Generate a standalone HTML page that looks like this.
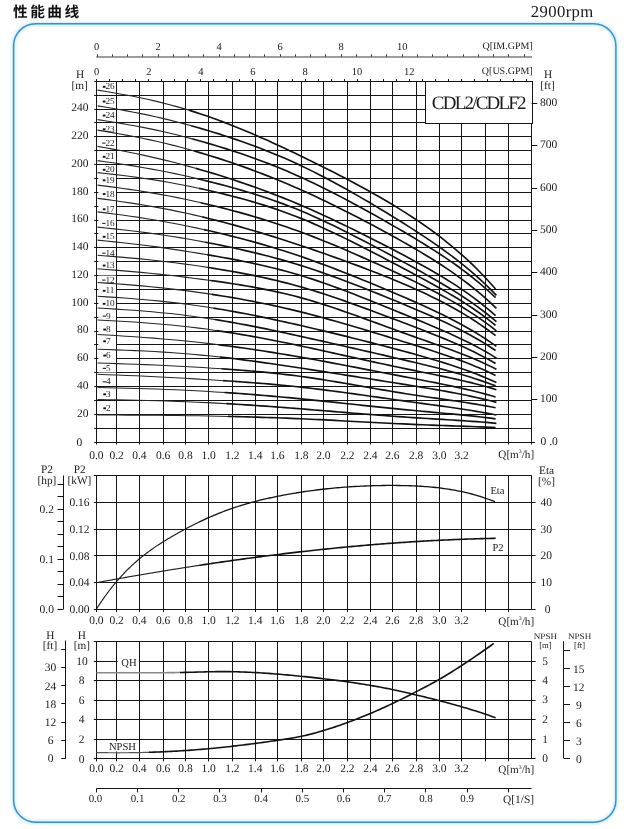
<!DOCTYPE html>
<html><head><meta charset="utf-8"><title>Performance curve</title>
<style>html,body{margin:0;padding:0;background:#fff;}body{width:624px;height:829px;overflow:hidden;font-family:"Liberation Serif",serif;}svg{display:block;will-change:transform;transform:translateZ(0)}text{text-rendering:geometricPrecision}</style>
</head><body>
<svg width="624" height="829" viewBox="0 0 624 829" font-family="'Liberation Serif', serif">
<rect width="624" height="829" fill="#fff"/>
<rect x="13.6" y="23.7" width="602.3" height="798.5" rx="22" ry="22" fill="#fff" stroke="#eaf8fd" stroke-width="7" opacity="0.9"/>
<rect x="13.6" y="23.7" width="602.3" height="798.5" rx="22" ry="22" fill="none" stroke="#cdeaf7" stroke-width="3.0" opacity="0.85"/>
<rect x="13.6" y="23.7" width="602.3" height="798.5" rx="22" ry="22" fill="none" stroke="#3991c6" stroke-width="1.45"/>
<text x="12.90" y="16.5" font-size="14.7" font-weight="bold" font-family="'Liberation Sans', 'Noto Sans CJK SC', sans-serif" fill="#111" letter-spacing="2.55">性能曲线</text>
<text x="530.70" y="16.80" font-size="16.7" text-anchor="start" fill="#1a1a1a" letter-spacing="0.4">2900rpm</text>
<line x1="96.50" y1="81.25" x2="96.50" y2="442.00" stroke="#141414" stroke-width="1.0" />
<line x1="116.50" y1="81.25" x2="116.50" y2="442.00" stroke="#141414" stroke-width="1.0" />
<line x1="139.50" y1="81.25" x2="139.50" y2="442.00" stroke="#141414" stroke-width="1.0" />
<line x1="163.50" y1="81.25" x2="163.50" y2="442.00" stroke="#141414" stroke-width="1.0" />
<line x1="185.50" y1="81.25" x2="185.50" y2="442.00" stroke="#141414" stroke-width="1.0" />
<line x1="208.50" y1="81.25" x2="208.50" y2="442.00" stroke="#141414" stroke-width="1.0" />
<line x1="232.50" y1="81.25" x2="232.50" y2="442.00" stroke="#141414" stroke-width="1.0" />
<line x1="255.50" y1="81.25" x2="255.50" y2="442.00" stroke="#141414" stroke-width="1.0" />
<line x1="277.50" y1="81.25" x2="277.50" y2="442.00" stroke="#141414" stroke-width="1.0" />
<line x1="301.50" y1="81.25" x2="301.50" y2="442.00" stroke="#141414" stroke-width="1.0" />
<line x1="323.50" y1="81.25" x2="323.50" y2="442.00" stroke="#141414" stroke-width="1.0" />
<line x1="347.50" y1="81.25" x2="347.50" y2="442.00" stroke="#141414" stroke-width="1.0" />
<line x1="370.50" y1="81.25" x2="370.50" y2="442.00" stroke="#141414" stroke-width="1.0" />
<line x1="392.50" y1="81.25" x2="392.50" y2="442.00" stroke="#141414" stroke-width="1.0" />
<line x1="416.50" y1="81.25" x2="416.50" y2="442.00" stroke="#141414" stroke-width="1.0" />
<line x1="439.50" y1="81.25" x2="439.50" y2="442.00" stroke="#141414" stroke-width="1.0" />
<line x1="461.50" y1="81.25" x2="461.50" y2="442.00" stroke="#141414" stroke-width="1.0" />
<line x1="485.50" y1="81.25" x2="485.50" y2="442.00" stroke="#141414" stroke-width="1.0" />
<line x1="508.50" y1="81.25" x2="508.50" y2="442.00" stroke="#141414" stroke-width="1.0" />
<line x1="531.50" y1="81.25" x2="531.50" y2="442.00" stroke="#141414" stroke-width="1.0" />
<line x1="96.50" y1="442.50" x2="531.60" y2="442.50" stroke="#141414" stroke-width="1.0" />
<line x1="96.50" y1="428.50" x2="531.60" y2="428.50" stroke="#141414" stroke-width="1.0" />
<line x1="96.50" y1="414.50" x2="531.60" y2="414.50" stroke="#141414" stroke-width="1.0" />
<line x1="96.50" y1="400.50" x2="531.60" y2="400.50" stroke="#141414" stroke-width="1.0" />
<line x1="96.50" y1="386.50" x2="531.60" y2="386.50" stroke="#141414" stroke-width="1.0" />
<line x1="96.50" y1="372.50" x2="531.60" y2="372.50" stroke="#141414" stroke-width="1.0" />
<line x1="96.50" y1="358.50" x2="531.60" y2="358.50" stroke="#141414" stroke-width="1.0" />
<line x1="96.50" y1="344.50" x2="531.60" y2="344.50" stroke="#141414" stroke-width="1.0" />
<line x1="96.50" y1="331.50" x2="531.60" y2="331.50" stroke="#141414" stroke-width="1.0" />
<line x1="96.50" y1="317.50" x2="531.60" y2="317.50" stroke="#141414" stroke-width="1.0" />
<line x1="96.50" y1="303.50" x2="531.60" y2="303.50" stroke="#141414" stroke-width="1.0" />
<line x1="96.50" y1="289.50" x2="531.60" y2="289.50" stroke="#141414" stroke-width="1.0" />
<line x1="96.50" y1="275.50" x2="531.60" y2="275.50" stroke="#141414" stroke-width="1.0" />
<line x1="96.50" y1="261.50" x2="531.60" y2="261.50" stroke="#141414" stroke-width="1.0" />
<line x1="96.50" y1="247.50" x2="531.60" y2="247.50" stroke="#141414" stroke-width="1.0" />
<line x1="96.50" y1="233.50" x2="531.60" y2="233.50" stroke="#141414" stroke-width="1.0" />
<line x1="96.50" y1="220.50" x2="531.60" y2="220.50" stroke="#141414" stroke-width="1.0" />
<line x1="96.50" y1="206.50" x2="531.60" y2="206.50" stroke="#141414" stroke-width="1.0" />
<line x1="96.50" y1="192.50" x2="531.60" y2="192.50" stroke="#141414" stroke-width="1.0" />
<line x1="96.50" y1="178.50" x2="531.60" y2="178.50" stroke="#141414" stroke-width="1.0" />
<line x1="96.50" y1="164.50" x2="531.60" y2="164.50" stroke="#141414" stroke-width="1.0" />
<line x1="96.50" y1="150.50" x2="531.60" y2="150.50" stroke="#141414" stroke-width="1.0" />
<line x1="96.50" y1="136.50" x2="531.60" y2="136.50" stroke="#141414" stroke-width="1.0" />
<line x1="96.50" y1="122.50" x2="531.60" y2="122.50" stroke="#141414" stroke-width="1.0" />
<line x1="96.50" y1="109.50" x2="531.60" y2="109.50" stroke="#141414" stroke-width="1.0" />
<line x1="96.50" y1="95.50" x2="531.60" y2="95.50" stroke="#141414" stroke-width="1.0" />
<line x1="96.50" y1="81.50" x2="531.60" y2="81.50" stroke="#141414" stroke-width="1.0" />
<rect x="425.5" y="81.5" width="107" height="42" fill="#fff" stroke="#141414" stroke-width="1.0"/>
<text x="431.8" y="108.9" font-size="19" fill="#1a1a1a" textLength="94.8" lengthAdjust="spacing">CDL2/CDLF2</text>
<line x1="94.20" y1="442.50" x2="96.50" y2="442.50" stroke="#141414" stroke-width="1.0" />
<line x1="94.20" y1="428.50" x2="96.50" y2="428.50" stroke="#141414" stroke-width="1.0" />
<line x1="94.20" y1="414.50" x2="96.50" y2="414.50" stroke="#141414" stroke-width="1.0" />
<line x1="94.20" y1="400.50" x2="96.50" y2="400.50" stroke="#141414" stroke-width="1.0" />
<line x1="94.20" y1="386.50" x2="96.50" y2="386.50" stroke="#141414" stroke-width="1.0" />
<line x1="94.20" y1="372.50" x2="96.50" y2="372.50" stroke="#141414" stroke-width="1.0" />
<line x1="94.20" y1="358.50" x2="96.50" y2="358.50" stroke="#141414" stroke-width="1.0" />
<line x1="94.20" y1="344.50" x2="96.50" y2="344.50" stroke="#141414" stroke-width="1.0" />
<line x1="94.20" y1="331.50" x2="96.50" y2="331.50" stroke="#141414" stroke-width="1.0" />
<line x1="94.20" y1="317.50" x2="96.50" y2="317.50" stroke="#141414" stroke-width="1.0" />
<line x1="94.20" y1="303.50" x2="96.50" y2="303.50" stroke="#141414" stroke-width="1.0" />
<line x1="94.20" y1="289.50" x2="96.50" y2="289.50" stroke="#141414" stroke-width="1.0" />
<line x1="94.20" y1="275.50" x2="96.50" y2="275.50" stroke="#141414" stroke-width="1.0" />
<line x1="94.20" y1="261.50" x2="96.50" y2="261.50" stroke="#141414" stroke-width="1.0" />
<line x1="94.20" y1="247.50" x2="96.50" y2="247.50" stroke="#141414" stroke-width="1.0" />
<line x1="94.20" y1="233.50" x2="96.50" y2="233.50" stroke="#141414" stroke-width="1.0" />
<line x1="94.20" y1="220.50" x2="96.50" y2="220.50" stroke="#141414" stroke-width="1.0" />
<line x1="94.20" y1="206.50" x2="96.50" y2="206.50" stroke="#141414" stroke-width="1.0" />
<line x1="94.20" y1="192.50" x2="96.50" y2="192.50" stroke="#141414" stroke-width="1.0" />
<line x1="94.20" y1="178.50" x2="96.50" y2="178.50" stroke="#141414" stroke-width="1.0" />
<line x1="94.20" y1="164.50" x2="96.50" y2="164.50" stroke="#141414" stroke-width="1.0" />
<line x1="94.20" y1="150.50" x2="96.50" y2="150.50" stroke="#141414" stroke-width="1.0" />
<line x1="94.20" y1="136.50" x2="96.50" y2="136.50" stroke="#141414" stroke-width="1.0" />
<line x1="94.20" y1="122.50" x2="96.50" y2="122.50" stroke="#141414" stroke-width="1.0" />
<line x1="94.20" y1="109.50" x2="96.50" y2="109.50" stroke="#141414" stroke-width="1.0" />
<line x1="94.20" y1="95.50" x2="96.50" y2="95.50" stroke="#141414" stroke-width="1.0" />
<line x1="94.20" y1="81.50" x2="96.50" y2="81.50" stroke="#141414" stroke-width="1.0" />
<text x="88.50" y="416.65" font-size="11.5" text-anchor="end" fill="#1a1a1a" >20</text>
<text x="88.50" y="388.90" font-size="11.5" text-anchor="end" fill="#1a1a1a" >40</text>
<text x="88.50" y="361.15" font-size="11.5" text-anchor="end" fill="#1a1a1a" >60</text>
<text x="88.50" y="333.40" font-size="11.5" text-anchor="end" fill="#1a1a1a" >80</text>
<text x="88.50" y="305.65" font-size="11.5" text-anchor="end" fill="#1a1a1a" >100</text>
<text x="88.50" y="277.90" font-size="11.5" text-anchor="end" fill="#1a1a1a" >120</text>
<text x="88.50" y="250.15" font-size="11.5" text-anchor="end" fill="#1a1a1a" >140</text>
<text x="88.50" y="222.40" font-size="11.5" text-anchor="end" fill="#1a1a1a" >160</text>
<text x="88.50" y="194.65" font-size="11.5" text-anchor="end" fill="#1a1a1a" >180</text>
<text x="88.50" y="166.90" font-size="11.5" text-anchor="end" fill="#1a1a1a" >200</text>
<text x="88.50" y="139.15" font-size="11.5" text-anchor="end" fill="#1a1a1a" >220</text>
<text x="88.50" y="111.40" font-size="11.5" text-anchor="end" fill="#1a1a1a" >240</text>
<text x="79.30" y="446.30" font-size="11.5" text-anchor="middle" fill="#1a1a1a" >0</text>
<text x="80.00" y="77.80" font-size="11.3" text-anchor="middle" fill="#1a1a1a" >H</text>
<text x="79.60" y="89.40" font-size="11.3" text-anchor="middle" fill="#1a1a1a" >[m]</text>
<line x1="531.60" y1="442.50" x2="535.00" y2="442.50" stroke="#141414" stroke-width="1.0" />
<line x1="531.60" y1="399.50" x2="537.30" y2="399.50" stroke="#141414" stroke-width="1.0" />
<text x="540.00" y="402.21" font-size="11.5" text-anchor="start" fill="#1a1a1a" >100</text>
<line x1="531.60" y1="357.50" x2="537.30" y2="357.50" stroke="#141414" stroke-width="1.0" />
<text x="540.00" y="359.92" font-size="11.5" text-anchor="start" fill="#1a1a1a" >200</text>
<line x1="531.60" y1="315.50" x2="537.30" y2="315.50" stroke="#141414" stroke-width="1.0" />
<text x="540.00" y="317.63" font-size="11.5" text-anchor="start" fill="#1a1a1a" >300</text>
<line x1="531.60" y1="272.50" x2="537.30" y2="272.50" stroke="#141414" stroke-width="1.0" />
<text x="540.00" y="275.34" font-size="11.5" text-anchor="start" fill="#1a1a1a" >400</text>
<line x1="531.60" y1="230.50" x2="537.30" y2="230.50" stroke="#141414" stroke-width="1.0" />
<text x="540.00" y="233.05" font-size="11.5" text-anchor="start" fill="#1a1a1a" >500</text>
<line x1="531.60" y1="188.50" x2="537.30" y2="188.50" stroke="#141414" stroke-width="1.0" />
<text x="540.00" y="190.75" font-size="11.5" text-anchor="start" fill="#1a1a1a" >600</text>
<line x1="531.60" y1="145.50" x2="537.30" y2="145.50" stroke="#141414" stroke-width="1.0" />
<text x="540.00" y="148.46" font-size="11.5" text-anchor="start" fill="#1a1a1a" >700</text>
<line x1="531.60" y1="103.50" x2="537.30" y2="103.50" stroke="#141414" stroke-width="1.0" />
<text x="540.00" y="106.17" font-size="11.5" text-anchor="start" fill="#1a1a1a" >800</text>
<text x="540.50" y="444.60" font-size="11.5" text-anchor="start" fill="#1a1a1a" >0 .0</text>
<text x="548.20" y="78.20" font-size="11.3" text-anchor="middle" fill="#1a1a1a" >H</text>
<text x="547.50" y="89.30" font-size="11.3" text-anchor="middle" fill="#1a1a1a" >[ft]</text>
<line x1="96.50" y1="442.00" x2="96.50" y2="444.60" stroke="#141414" stroke-width="1.0" />
<text x="96.40" y="459.20" font-size="11.5" text-anchor="middle" fill="#1a1a1a" >0.0</text>
<line x1="116.50" y1="442.00" x2="116.50" y2="444.60" stroke="#141414" stroke-width="1.0" />
<text x="116.65" y="459.20" font-size="11.5" text-anchor="middle" fill="#1a1a1a" >0.2</text>
<line x1="139.50" y1="442.00" x2="139.50" y2="444.60" stroke="#141414" stroke-width="1.0" />
<text x="139.40" y="459.20" font-size="11.5" text-anchor="middle" fill="#1a1a1a" >0.4</text>
<line x1="163.50" y1="442.00" x2="163.50" y2="444.60" stroke="#141414" stroke-width="1.0" />
<text x="163.15" y="459.20" font-size="11.5" text-anchor="middle" fill="#1a1a1a" >0.6</text>
<line x1="185.50" y1="442.00" x2="185.50" y2="444.60" stroke="#141414" stroke-width="1.0" />
<text x="185.50" y="459.20" font-size="11.5" text-anchor="middle" fill="#1a1a1a" >0.8</text>
<line x1="208.50" y1="442.00" x2="208.50" y2="444.60" stroke="#141414" stroke-width="1.0" />
<text x="208.65" y="459.20" font-size="11.5" text-anchor="middle" fill="#1a1a1a" >1.0</text>
<line x1="232.50" y1="442.00" x2="232.50" y2="444.60" stroke="#141414" stroke-width="1.0" />
<text x="232.40" y="459.20" font-size="11.5" text-anchor="middle" fill="#1a1a1a" >1.2</text>
<line x1="255.50" y1="442.00" x2="255.50" y2="444.60" stroke="#141414" stroke-width="1.0" />
<text x="255.20" y="459.20" font-size="11.5" text-anchor="middle" fill="#1a1a1a" >1.4</text>
<line x1="277.50" y1="442.00" x2="277.50" y2="444.60" stroke="#141414" stroke-width="1.0" />
<text x="277.40" y="459.20" font-size="11.5" text-anchor="middle" fill="#1a1a1a" >1.6</text>
<line x1="301.50" y1="442.00" x2="301.50" y2="444.60" stroke="#141414" stroke-width="1.0" />
<text x="301.40" y="459.20" font-size="11.5" text-anchor="middle" fill="#1a1a1a" >1.8</text>
<line x1="323.50" y1="442.00" x2="323.50" y2="444.60" stroke="#141414" stroke-width="1.0" />
<text x="323.40" y="459.20" font-size="11.5" text-anchor="middle" fill="#1a1a1a" >2.0</text>
<line x1="347.50" y1="442.00" x2="347.50" y2="444.60" stroke="#141414" stroke-width="1.0" />
<text x="347.40" y="459.20" font-size="11.5" text-anchor="middle" fill="#1a1a1a" >2.2</text>
<line x1="370.50" y1="442.00" x2="370.50" y2="444.60" stroke="#141414" stroke-width="1.0" />
<text x="370.40" y="459.20" font-size="11.5" text-anchor="middle" fill="#1a1a1a" >2.4</text>
<line x1="392.50" y1="442.00" x2="392.50" y2="444.60" stroke="#141414" stroke-width="1.0" />
<text x="392.40" y="459.20" font-size="11.5" text-anchor="middle" fill="#1a1a1a" >2.6</text>
<line x1="416.50" y1="442.00" x2="416.50" y2="444.60" stroke="#141414" stroke-width="1.0" />
<text x="416.15" y="459.20" font-size="11.5" text-anchor="middle" fill="#1a1a1a" >2.8</text>
<line x1="439.50" y1="442.00" x2="439.50" y2="444.60" stroke="#141414" stroke-width="1.0" />
<text x="439.40" y="459.20" font-size="11.5" text-anchor="middle" fill="#1a1a1a" >3.0</text>
<line x1="461.50" y1="442.00" x2="461.50" y2="444.60" stroke="#141414" stroke-width="1.0" />
<text x="461.65" y="459.20" font-size="11.5" text-anchor="middle" fill="#1a1a1a" >3.2</text>
<line x1="485.50" y1="442.00" x2="485.50" y2="444.60" stroke="#141414" stroke-width="1.0" />
<line x1="508.50" y1="442.00" x2="508.50" y2="444.60" stroke="#141414" stroke-width="1.0" />
<line x1="531.50" y1="442.00" x2="531.50" y2="444.60" stroke="#141414" stroke-width="1.0" />
<text x="498.3" y="457.6" font-size="11.2" fill="#1a1a1a">Q[m<tspan font-size="5.8" dy="-4.4">3</tspan><tspan dy="4.4">/h]</tspan></text>
<line x1="96.50" y1="79.05" x2="96.50" y2="81.25" stroke="#141414" stroke-width="1.0" />
<line x1="109.50" y1="79.05" x2="109.50" y2="81.25" stroke="#141414" stroke-width="1.0" />
<line x1="122.50" y1="79.05" x2="122.50" y2="81.25" stroke="#141414" stroke-width="1.0" />
<line x1="135.50" y1="79.05" x2="135.50" y2="81.25" stroke="#141414" stroke-width="1.0" />
<line x1="148.50" y1="79.05" x2="148.50" y2="81.25" stroke="#141414" stroke-width="1.0" />
<line x1="161.50" y1="79.05" x2="161.50" y2="81.25" stroke="#141414" stroke-width="1.0" />
<line x1="174.50" y1="79.05" x2="174.50" y2="81.25" stroke="#141414" stroke-width="1.0" />
<line x1="187.50" y1="79.05" x2="187.50" y2="81.25" stroke="#141414" stroke-width="1.0" />
<line x1="200.50" y1="79.05" x2="200.50" y2="81.25" stroke="#141414" stroke-width="1.0" />
<line x1="213.50" y1="79.05" x2="213.50" y2="81.25" stroke="#141414" stroke-width="1.0" />
<line x1="226.50" y1="79.05" x2="226.50" y2="81.25" stroke="#141414" stroke-width="1.0" />
<line x1="239.50" y1="79.05" x2="239.50" y2="81.25" stroke="#141414" stroke-width="1.0" />
<line x1="252.50" y1="79.05" x2="252.50" y2="81.25" stroke="#141414" stroke-width="1.0" />
<line x1="265.50" y1="79.05" x2="265.50" y2="81.25" stroke="#141414" stroke-width="1.0" />
<line x1="278.50" y1="79.05" x2="278.50" y2="81.25" stroke="#141414" stroke-width="1.0" />
<line x1="292.50" y1="79.05" x2="292.50" y2="81.25" stroke="#141414" stroke-width="1.0" />
<line x1="305.50" y1="79.05" x2="305.50" y2="81.25" stroke="#141414" stroke-width="1.0" />
<line x1="318.50" y1="79.05" x2="318.50" y2="81.25" stroke="#141414" stroke-width="1.0" />
<line x1="331.50" y1="79.05" x2="331.50" y2="81.25" stroke="#141414" stroke-width="1.0" />
<line x1="344.50" y1="79.05" x2="344.50" y2="81.25" stroke="#141414" stroke-width="1.0" />
<line x1="357.50" y1="79.05" x2="357.50" y2="81.25" stroke="#141414" stroke-width="1.0" />
<line x1="370.50" y1="79.05" x2="370.50" y2="81.25" stroke="#141414" stroke-width="1.0" />
<line x1="383.50" y1="79.05" x2="383.50" y2="81.25" stroke="#141414" stroke-width="1.0" />
<line x1="396.50" y1="79.05" x2="396.50" y2="81.25" stroke="#141414" stroke-width="1.0" />
<line x1="409.50" y1="79.05" x2="409.50" y2="81.25" stroke="#141414" stroke-width="1.0" />
<line x1="422.50" y1="79.05" x2="422.50" y2="81.25" stroke="#141414" stroke-width="1.0" />
<line x1="435.50" y1="79.05" x2="435.50" y2="81.25" stroke="#141414" stroke-width="1.0" />
<line x1="448.50" y1="79.05" x2="448.50" y2="81.25" stroke="#141414" stroke-width="1.0" />
<line x1="461.50" y1="79.05" x2="461.50" y2="81.25" stroke="#141414" stroke-width="1.0" />
<line x1="474.50" y1="79.05" x2="474.50" y2="81.25" stroke="#141414" stroke-width="1.0" />
<line x1="487.50" y1="79.05" x2="487.50" y2="81.25" stroke="#141414" stroke-width="1.0" />
<line x1="500.50" y1="79.05" x2="500.50" y2="81.25" stroke="#141414" stroke-width="1.0" />
<line x1="513.50" y1="79.05" x2="513.50" y2="81.25" stroke="#141414" stroke-width="1.0" />
<line x1="526.50" y1="79.05" x2="526.50" y2="81.25" stroke="#141414" stroke-width="1.0" />
<text x="96.70" y="74.60" font-size="10.5" text-anchor="middle" fill="#1a1a1a" >0</text>
<text x="148.78" y="74.60" font-size="10.5" text-anchor="middle" fill="#1a1a1a" >2</text>
<text x="200.86" y="74.60" font-size="10.5" text-anchor="middle" fill="#1a1a1a" >4</text>
<text x="252.94" y="74.60" font-size="10.5" text-anchor="middle" fill="#1a1a1a" >6</text>
<text x="305.02" y="74.60" font-size="10.5" text-anchor="middle" fill="#1a1a1a" >8</text>
<text x="357.10" y="74.60" font-size="10.5" text-anchor="middle" fill="#1a1a1a" >10</text>
<text x="409.18" y="74.60" font-size="10.5" text-anchor="middle" fill="#1a1a1a" >12</text>
<text x="532.70" y="73.90" font-size="10.0" text-anchor="end" fill="#1a1a1a" >Q[US.GPM]</text>
<line x1="96.2" y1="57.0" x2="532.1" y2="57.0" stroke="#3a3a3a" stroke-width="1.2"/>
<line x1="97.50" y1="54.30" x2="97.50" y2="56.60" stroke="#333" stroke-width="1.0" />
<line x1="112.50" y1="54.30" x2="112.50" y2="56.60" stroke="#333" stroke-width="1.0" />
<line x1="127.50" y1="54.30" x2="127.50" y2="56.60" stroke="#333" stroke-width="1.0" />
<line x1="142.50" y1="54.30" x2="142.50" y2="56.60" stroke="#333" stroke-width="1.0" />
<line x1="158.50" y1="54.30" x2="158.50" y2="56.60" stroke="#333" stroke-width="1.0" />
<line x1="173.50" y1="54.30" x2="173.50" y2="56.60" stroke="#333" stroke-width="1.0" />
<line x1="188.50" y1="54.30" x2="188.50" y2="56.60" stroke="#333" stroke-width="1.0" />
<line x1="203.50" y1="54.30" x2="203.50" y2="56.60" stroke="#333" stroke-width="1.0" />
<line x1="219.50" y1="54.30" x2="219.50" y2="56.60" stroke="#333" stroke-width="1.0" />
<line x1="234.50" y1="54.30" x2="234.50" y2="56.60" stroke="#333" stroke-width="1.0" />
<line x1="249.50" y1="54.30" x2="249.50" y2="56.60" stroke="#333" stroke-width="1.0" />
<line x1="264.50" y1="54.30" x2="264.50" y2="56.60" stroke="#333" stroke-width="1.0" />
<line x1="280.50" y1="54.30" x2="280.50" y2="56.60" stroke="#333" stroke-width="1.0" />
<line x1="295.50" y1="54.30" x2="295.50" y2="56.60" stroke="#333" stroke-width="1.0" />
<line x1="310.50" y1="54.30" x2="310.50" y2="56.60" stroke="#333" stroke-width="1.0" />
<line x1="325.50" y1="54.30" x2="325.50" y2="56.60" stroke="#333" stroke-width="1.0" />
<line x1="341.50" y1="54.30" x2="341.50" y2="56.60" stroke="#333" stroke-width="1.0" />
<line x1="356.50" y1="54.30" x2="356.50" y2="56.60" stroke="#333" stroke-width="1.0" />
<line x1="371.50" y1="54.30" x2="371.50" y2="56.60" stroke="#333" stroke-width="1.0" />
<line x1="386.50" y1="54.30" x2="386.50" y2="56.60" stroke="#333" stroke-width="1.0" />
<line x1="402.50" y1="54.30" x2="402.50" y2="56.60" stroke="#333" stroke-width="1.0" />
<line x1="417.50" y1="54.30" x2="417.50" y2="56.60" stroke="#333" stroke-width="1.0" />
<line x1="432.50" y1="54.30" x2="432.50" y2="56.60" stroke="#333" stroke-width="1.0" />
<line x1="447.50" y1="54.30" x2="447.50" y2="56.60" stroke="#333" stroke-width="1.0" />
<line x1="463.50" y1="54.30" x2="463.50" y2="56.60" stroke="#333" stroke-width="1.0" />
<line x1="478.50" y1="54.30" x2="478.50" y2="56.60" stroke="#333" stroke-width="1.0" />
<line x1="493.50" y1="54.30" x2="493.50" y2="56.60" stroke="#333" stroke-width="1.0" />
<line x1="508.50" y1="54.30" x2="508.50" y2="56.60" stroke="#333" stroke-width="1.0" />
<line x1="524.50" y1="54.30" x2="524.50" y2="56.60" stroke="#333" stroke-width="1.0" />
<text x="96.70" y="49.50" font-size="10.5" text-anchor="middle" fill="#1a1a1a" >0</text>
<text x="158.20" y="49.50" font-size="10.5" text-anchor="middle" fill="#1a1a1a" >2</text>
<text x="219.20" y="49.50" font-size="10.5" text-anchor="middle" fill="#1a1a1a" >4</text>
<text x="280.20" y="49.50" font-size="10.5" text-anchor="middle" fill="#1a1a1a" >6</text>
<text x="341.20" y="49.50" font-size="10.5" text-anchor="middle" fill="#1a1a1a" >8</text>
<text x="402.20" y="49.50" font-size="10.5" text-anchor="middle" fill="#1a1a1a" >10</text>
<text x="532.70" y="49.00" font-size="10.0" text-anchor="end" fill="#1a1a1a" >Q[IM.GPM]</text>
<rect x="98.4" y="82.35" width="17.6" height="8.6" fill="#fff"/>
<rect x="98.4" y="97.10" width="17.6" height="8.6" fill="#fff"/>
<rect x="98.4" y="111.10" width="17.6" height="8.6" fill="#fff"/>
<rect x="98.4" y="124.85" width="17.6" height="8.6" fill="#fff"/>
<rect x="98.4" y="138.60" width="17.6" height="8.6" fill="#fff"/>
<rect x="98.4" y="152.35" width="17.6" height="8.6" fill="#fff"/>
<rect x="98.4" y="165.35" width="17.6" height="8.6" fill="#fff"/>
<rect x="98.4" y="175.85" width="17.6" height="8.6" fill="#fff"/>
<rect x="98.4" y="189.60" width="17.6" height="8.6" fill="#fff"/>
<rect x="98.4" y="204.85" width="17.6" height="8.6" fill="#fff"/>
<rect x="98.4" y="218.85" width="17.6" height="8.6" fill="#fff"/>
<rect x="98.4" y="232.35" width="17.6" height="8.6" fill="#fff"/>
<rect x="98.4" y="248.70" width="17.6" height="8.6" fill="#fff"/>
<rect x="98.4" y="261.10" width="17.6" height="8.6" fill="#fff"/>
<rect x="98.4" y="275.60" width="17.6" height="8.6" fill="#fff"/>
<rect x="98.4" y="286.35" width="17.6" height="8.6" fill="#fff"/>
<rect x="98.4" y="299.35" width="17.6" height="8.6" fill="#fff"/>
<rect x="98.4" y="311.60" width="17.6" height="8.6" fill="#fff"/>
<rect x="98.4" y="325.10" width="17.6" height="8.6" fill="#fff"/>
<rect x="98.4" y="336.85" width="17.6" height="8.6" fill="#fff"/>
<rect x="98.4" y="351.10" width="17.6" height="8.6" fill="#fff"/>
<rect x="98.4" y="363.85" width="17.6" height="8.6" fill="#fff"/>
<rect x="98.4" y="377.35" width="17.6" height="8.6" fill="#fff"/>
<rect x="98.4" y="389.85" width="17.6" height="8.6" fill="#fff"/>
<rect x="98.4" y="403.85" width="17.6" height="8.6" fill="#fff"/>
<path d="M97.55,90.13 L104.66,91.28 L111.77,92.46 L118.88,93.68 L126.00,94.97 L133.11,96.32 L140.22,97.76 L147.33,99.28 L154.44,100.90 L161.55,102.61 L168.67,104.43 L175.78,106.36 L182.89,108.40 L190.00,110.54" fill="none" stroke="#262626" stroke-width="1.12" stroke-linejoin="round" stroke-linecap="butt" />
<path d="M189.50,110.39 L195.07,112.14 L200.63,113.96 L206.20,115.84 L211.76,117.78 L217.33,119.79 L222.89,121.86 L228.46,123.99 L234.02,126.18 L239.59,128.42 L245.15,130.72 L250.72,133.06 L256.29,135.45 L261.85,137.89 L267.42,140.37 L272.98,142.88 L278.55,145.44 L284.11,148.02 L289.68,150.64 L295.24,153.29 L300.81,155.97 L306.37,158.67 L311.94,161.39 L317.51,164.15 L323.07,166.93 L328.64,169.73 L334.20,172.57 L339.77,175.44 L345.33,178.33 L350.90,181.27 L356.46,184.24 L362.03,187.25 L367.59,190.30 L373.16,193.41 L378.73,196.56 L384.29,199.78 L389.86,203.06 L395.42,206.41 L400.99,209.84 L406.55,213.35 L412.12,216.96 L417.68,220.67 L423.25,224.49 L428.81,228.43 L434.38,232.50 L439.95,236.71 L445.51,241.06 L451.08,245.57 L456.64,250.26 L462.21,255.13 L467.77,260.19 L473.34,265.47 L478.90,270.97 L484.47,276.72 L490.03,282.74 L495.60,289.02" fill="none" stroke="#111" stroke-width="1.65" stroke-linejoin="round" stroke-linecap="butt" />
<path d="M97.55,105.88 L104.78,107.07 L112.02,108.29 L119.25,109.54 L126.49,110.85 L133.72,112.22 L140.96,113.65 L148.19,115.16 L155.43,116.74 L162.66,118.40 L169.90,120.14 L177.13,121.96 L184.37,123.86 L191.60,125.83" fill="none" stroke="#262626" stroke-width="1.12" stroke-linejoin="round" stroke-linecap="butt" />
<path d="M191.10,125.69 L196.65,127.26 L202.20,128.86 L207.75,130.51 L213.30,132.19 L218.85,133.91 L224.41,135.68 L229.96,137.49 L235.51,139.36 L241.06,141.27 L246.61,143.23 L252.16,145.25 L257.71,147.32 L263.26,149.46 L268.81,151.65 L274.36,153.90 L279.91,156.22 L285.47,158.61 L291.02,161.07 L296.57,163.59 L302.12,166.19 L307.67,168.87 L313.22,171.62 L318.77,174.43 L324.32,177.30 L329.87,180.23 L335.42,183.22 L340.97,186.25 L346.53,189.34 L352.08,192.46 L357.63,195.63 L363.18,198.84 L368.73,202.08 L374.28,205.36 L379.83,208.68 L385.38,212.04 L390.93,215.43 L396.48,218.85 L402.03,222.32 L407.59,225.83 L413.14,229.38 L418.69,232.98 L424.24,236.64 L429.79,240.36 L435.34,244.16 L440.89,248.05 L446.44,252.05 L451.99,256.16 L457.54,260.41 L463.09,264.81 L468.65,269.37 L474.20,274.12 L479.75,279.07 L485.30,284.24 L490.85,289.66 L496.40,295.37" fill="none" stroke="#111" stroke-width="1.65" stroke-linejoin="round" stroke-linecap="butt" />
<path d="M97.55,119.62 L104.91,120.77 L112.27,121.95 L119.62,123.17 L126.98,124.43 L134.34,125.76 L141.70,127.16 L149.05,128.63 L156.41,130.17 L163.77,131.80 L171.13,133.51 L178.48,135.30 L185.84,137.17 L193.20,139.13" fill="none" stroke="#262626" stroke-width="1.12" stroke-linejoin="round" stroke-linecap="butt" />
<path d="M192.70,138.99 L198.21,140.50 L203.71,142.05 L209.22,143.64 L214.73,145.27 L220.24,146.94 L225.74,148.66 L231.25,150.42 L236.76,152.22 L242.27,154.08 L247.77,155.98 L253.28,157.94 L258.79,159.95 L264.29,162.01 L269.80,164.13 L275.31,166.31 L280.82,168.55 L286.32,170.84 L291.83,173.20 L297.34,175.63 L302.85,178.11 L308.35,180.67 L313.86,183.28 L319.37,185.96 L324.87,188.68 L330.38,191.46 L335.89,194.28 L341.40,197.14 L346.90,200.04 L352.41,202.98 L357.92,205.95 L363.43,208.96 L368.93,211.99 L374.44,215.06 L379.95,218.15 L385.45,221.27 L390.96,224.42 L396.47,227.60 L401.98,230.81 L407.48,234.05 L412.99,237.33 L418.50,240.65 L424.01,244.01 L429.51,247.43 L435.02,250.92 L440.53,254.48 L446.03,258.14 L451.54,261.90 L457.05,265.79 L462.56,269.80 L468.06,273.97 L473.57,278.31 L479.08,282.83 L484.59,287.55 L490.09,292.50 L495.60,297.70" fill="none" stroke="#111" stroke-width="1.65" stroke-linejoin="round" stroke-linecap="butt" />
<path d="M97.55,130.13 L105.03,131.38 L112.51,132.65 L119.99,133.97 L127.47,135.34 L134.95,136.77 L142.43,138.28 L149.92,139.86 L157.40,141.53 L164.88,143.28 L172.36,145.12 L179.84,147.05 L187.32,149.07 L194.80,151.17" fill="none" stroke="#262626" stroke-width="1.12" stroke-linejoin="round" stroke-linecap="butt" />
<path d="M194.30,151.03 L199.79,152.62 L205.29,154.25 L210.78,155.93 L216.27,157.65 L221.76,159.41 L227.26,161.22 L232.75,163.07 L238.24,164.97 L243.73,166.90 L249.23,168.89 L254.72,170.92 L260.21,173.00 L265.71,175.12 L271.20,177.29 L276.69,179.50 L282.18,181.76 L287.68,184.07 L293.17,186.43 L298.66,188.84 L304.15,191.29 L309.65,193.80 L315.14,196.35 L320.63,198.94 L326.13,201.57 L331.62,204.24 L337.11,206.94 L342.60,209.68 L348.10,212.45 L353.59,215.25 L359.08,218.08 L364.57,220.94 L370.07,223.83 L375.56,226.75 L381.05,229.70 L386.55,232.69 L392.04,235.71 L397.53,238.76 L403.02,241.85 L408.52,244.99 L414.01,248.17 L419.50,251.41 L424.99,254.71 L430.49,258.07 L435.98,261.51 L441.47,265.05 L446.97,268.68 L452.46,272.44 L457.95,276.32 L463.44,280.34 L468.94,284.52 L474.43,288.88 L479.92,293.42 L485.41,298.17 L490.91,303.15 L496.40,308.41" fill="none" stroke="#111" stroke-width="1.65" stroke-linejoin="round" stroke-linecap="butt" />
<path d="M97.55,146.39 L105.15,147.74 L112.76,149.13 L120.36,150.55 L127.97,152.02 L135.57,153.56 L143.17,155.16 L150.78,156.83 L158.38,158.58 L165.98,160.40 L173.59,162.31 L181.19,164.29 L188.80,166.36 L196.40,168.49" fill="none" stroke="#262626" stroke-width="1.12" stroke-linejoin="round" stroke-linecap="butt" />
<path d="M195.90,168.35 L201.35,169.92 L206.80,171.52 L212.25,173.16 L217.70,174.83 L223.15,176.54 L228.59,178.28 L234.04,180.06 L239.49,181.88 L244.94,183.73 L250.39,185.63 L255.84,187.57 L261.29,189.54 L266.74,191.56 L272.19,193.63 L277.64,195.73 L283.09,197.89 L288.53,200.08 L293.98,202.33 L299.43,204.62 L304.88,206.96 L310.33,209.35 L315.78,211.78 L321.23,214.25 L326.68,216.76 L332.13,219.31 L337.58,221.88 L343.03,224.49 L348.47,227.13 L353.92,229.79 L359.37,232.47 L364.82,235.18 L370.27,237.91 L375.72,240.67 L381.17,243.45 L386.62,246.25 L392.07,249.08 L397.52,251.93 L402.97,254.82 L408.41,257.73 L413.86,260.68 L419.31,263.67 L424.76,266.70 L430.21,269.78 L435.66,272.93 L441.11,276.16 L446.56,279.48 L452.01,282.90 L457.46,286.43 L462.91,290.08 L468.35,293.88 L473.80,297.84 L479.25,301.97 L484.70,306.29 L490.15,310.82 L495.60,315.59" fill="none" stroke="#111" stroke-width="1.65" stroke-linejoin="round" stroke-linecap="butt" />
<path d="M97.55,160.61 L105.28,161.69 L113.00,162.79 L120.73,163.94 L128.46,165.13 L136.18,166.38 L143.91,167.69 L151.64,169.08 L159.37,170.53 L167.09,172.05 L174.82,173.65 L182.55,175.32 L190.27,177.07 L198.00,178.87" fill="none" stroke="#262626" stroke-width="1.12" stroke-linejoin="round" stroke-linecap="butt" />
<path d="M197.50,178.75 L202.93,180.06 L208.37,181.39 L213.80,182.75 L219.24,184.15 L224.67,185.57 L230.11,187.04 L235.54,188.54 L240.98,190.09 L246.41,191.69 L251.85,193.33 L257.28,195.02 L262.71,196.77 L268.15,198.58 L273.58,200.45 L279.02,202.38 L284.45,204.37 L289.89,206.44 L295.32,208.58 L300.76,210.79 L306.19,213.08 L311.63,215.45 L317.06,217.88 L322.49,220.38 L327.93,222.93 L333.36,225.54 L338.80,228.19 L344.23,230.89 L349.67,233.63 L355.10,236.40 L360.54,239.20 L365.97,242.02 L371.41,244.88 L376.84,247.75 L382.27,250.64 L387.71,253.55 L393.14,256.48 L398.58,259.42 L404.01,262.37 L409.45,265.34 L414.88,268.33 L420.32,271.33 L425.75,274.36 L431.19,277.42 L436.62,280.52 L442.05,283.69 L447.49,286.93 L452.92,290.25 L458.36,293.67 L463.79,297.20 L469.23,300.86 L474.66,304.66 L480.10,308.62 L485.53,312.76 L490.97,317.10 L496.40,321.71" fill="none" stroke="#111" stroke-width="1.65" stroke-linejoin="round" stroke-linecap="butt" />
<path d="M97.55,172.59 L105.40,173.46 L113.25,174.36 L121.10,175.30 L128.95,176.29 L136.80,177.34 L144.65,178.46 L152.50,179.65 L160.35,180.92 L168.20,182.27 L176.05,183.70 L183.90,185.21 L191.75,186.79 L199.60,188.45" fill="none" stroke="#262626" stroke-width="1.12" stroke-linejoin="round" stroke-linecap="butt" />
<path d="M199.10,188.35 L204.49,189.52 L209.88,190.74 L215.27,191.98 L220.66,193.26 L226.05,194.58 L231.45,195.94 L236.84,197.34 L242.23,198.79 L247.62,200.30 L253.01,201.85 L258.40,203.46 L263.79,205.12 L269.18,206.85 L274.57,208.64 L279.96,210.49 L285.35,212.41 L290.75,214.40 L296.14,216.47 L301.53,218.61 L306.92,220.83 L312.31,223.13 L317.70,225.49 L323.09,227.91 L328.48,230.39 L333.87,232.93 L339.26,235.51 L344.65,238.13 L350.05,240.79 L355.44,243.49 L360.83,246.21 L366.22,248.96 L371.61,251.73 L377.00,254.52 L382.39,257.33 L387.78,260.16 L393.17,263.00 L398.56,265.85 L403.95,268.71 L409.35,271.58 L414.74,274.47 L420.13,277.37 L425.52,280.28 L430.91,283.23 L436.30,286.21 L441.69,289.25 L447.08,292.35 L452.47,295.52 L457.86,298.79 L463.25,302.16 L468.65,305.64 L474.04,309.26 L479.43,313.02 L484.82,316.95 L490.21,321.06 L495.60,325.37" fill="none" stroke="#111" stroke-width="1.65" stroke-linejoin="round" stroke-linecap="butt" />
<path d="M97.55,185.10 L105.52,186.12 L113.50,187.16 L121.47,188.24 L129.44,189.38 L137.42,190.57 L145.39,191.83 L153.36,193.17 L161.33,194.58 L169.31,196.07 L177.28,197.64 L185.25,199.29 L193.23,201.01 L201.20,202.81" fill="none" stroke="#262626" stroke-width="1.12" stroke-linejoin="round" stroke-linecap="butt" />
<path d="M200.70,202.70 L206.08,203.95 L211.45,205.23 L216.83,206.55 L222.21,207.89 L227.58,209.27 L232.96,210.69 L238.33,212.14 L243.71,213.63 L249.09,215.16 L254.46,216.73 L259.84,218.34 L265.22,219.99 L270.59,221.69 L275.97,223.42 L281.35,225.21 L286.72,227.03 L292.10,228.91 L297.47,230.83 L302.85,232.80 L308.23,234.82 L313.60,236.89 L318.98,239.00 L324.36,241.15 L329.73,243.34 L335.11,245.56 L340.49,247.81 L345.86,250.10 L351.24,252.41 L356.61,254.75 L361.99,257.12 L367.37,259.51 L372.74,261.93 L378.12,264.36 L383.50,266.83 L388.87,269.31 L394.25,271.82 L399.63,274.36 L405.00,276.92 L410.38,279.51 L415.75,282.13 L421.13,284.79 L426.51,287.49 L431.88,290.23 L437.26,293.04 L442.64,295.91 L448.01,298.86 L453.39,301.90 L458.77,305.04 L464.14,308.29 L469.52,311.66 L474.89,315.16 L480.27,318.81 L485.65,322.62 L491.02,326.61 L496.40,330.82" fill="none" stroke="#111" stroke-width="1.65" stroke-linejoin="round" stroke-linecap="butt" />
<path d="M97.55,198.36 L105.65,199.43 L113.74,200.53 L121.84,201.68 L129.93,202.87 L138.03,204.13 L146.13,205.46 L154.22,206.87 L162.32,208.35 L170.42,209.92 L178.51,211.58 L186.61,213.31 L194.70,215.13 L202.80,217.04" fill="none" stroke="#262626" stroke-width="1.12" stroke-linejoin="round" stroke-linecap="butt" />
<path d="M202.30,216.92 L207.63,218.21 L212.97,219.54 L218.30,220.90 L223.63,222.29 L228.96,223.71 L234.30,225.17 L239.63,226.65 L244.96,228.17 L250.29,229.71 L255.63,231.28 L260.96,232.88 L266.29,234.50 L271.63,236.15 L276.96,237.82 L282.29,239.51 L287.62,241.23 L292.96,242.97 L298.29,244.73 L303.62,246.51 L308.95,248.31 L314.29,250.13 L319.62,251.97 L324.95,253.83 L330.29,255.70 L335.62,257.60 L340.95,259.52 L346.28,261.45 L351.62,263.41 L356.95,265.39 L362.28,267.39 L367.61,269.41 L372.95,271.47 L378.28,273.55 L383.61,275.66 L388.95,277.81 L394.28,279.99 L399.61,282.22 L404.94,284.49 L410.28,286.81 L415.61,289.18 L420.94,291.61 L426.27,294.11 L431.61,296.67 L436.94,299.31 L442.27,302.04 L447.61,304.85 L452.94,307.76 L458.27,310.78 L463.60,313.91 L468.94,317.17 L474.27,320.56 L479.60,324.09 L484.93,327.77 L490.27,331.62 L495.60,335.66" fill="none" stroke="#111" stroke-width="1.65" stroke-linejoin="round" stroke-linecap="butt" />
<path d="M97.55,211.85 L105.77,212.88 L113.99,213.94 L122.21,215.04 L130.43,216.19 L138.65,217.41 L146.87,218.68 L155.08,220.03 L163.30,221.45 L171.52,222.95 L179.74,224.53 L187.96,226.18 L196.18,227.91 L204.40,229.70" fill="none" stroke="#262626" stroke-width="1.12" stroke-linejoin="round" stroke-linecap="butt" />
<path d="M203.90,229.59 L209.22,230.79 L214.54,232.01 L219.85,233.26 L225.17,234.54 L230.49,235.85 L235.81,237.19 L241.13,238.57 L246.45,239.98 L251.76,241.42 L257.08,242.89 L262.40,244.41 L267.72,245.96 L273.04,247.54 L278.35,249.17 L283.67,250.83 L288.99,252.53 L294.31,254.28 L299.63,256.06 L304.95,257.89 L310.26,259.76 L315.58,261.67 L320.90,263.61 L326.22,265.59 L331.54,267.60 L336.85,269.63 L342.17,271.69 L347.49,273.78 L352.81,275.89 L358.13,278.02 L363.45,280.17 L368.76,282.34 L374.08,284.53 L379.40,286.73 L384.72,288.96 L390.04,291.20 L395.35,293.46 L400.67,295.75 L405.99,298.05 L411.31,300.38 L416.63,302.73 L421.95,305.12 L427.26,307.54 L432.58,310.00 L437.90,312.51 L443.22,315.08 L448.54,317.72 L453.85,320.44 L459.17,323.25 L464.49,326.16 L469.81,329.17 L475.13,332.31 L480.45,335.58 L485.76,339.00 L491.08,342.57 L496.40,346.36" fill="none" stroke="#111" stroke-width="1.65" stroke-linejoin="round" stroke-linecap="butt" />
<path d="M97.55,227.08 L105.89,227.94 L114.23,228.83 L122.58,229.75 L130.92,230.72 L139.26,231.75 L147.60,232.84 L155.95,233.99 L164.29,235.21 L172.63,236.50 L180.97,237.86 L189.32,239.29 L197.66,240.79 L206.00,242.34" fill="none" stroke="#262626" stroke-width="1.12" stroke-linejoin="round" stroke-linecap="butt" />
<path d="M205.50,242.25 L210.77,243.26 L216.05,244.29 L221.32,245.35 L226.60,246.44 L231.87,247.55 L237.15,248.70 L242.42,249.88 L247.70,251.09 L252.97,252.33 L258.25,253.62 L263.52,254.94 L268.79,256.29 L274.07,257.70 L279.34,259.14 L284.62,260.63 L289.89,262.16 L295.17,263.74 L300.44,265.37 L305.72,267.05 L310.99,268.78 L316.27,270.55 L321.54,272.36 L326.81,274.22 L332.09,276.11 L337.36,278.03 L342.64,279.99 L347.91,281.97 L353.19,283.98 L358.46,286.01 L363.74,288.07 L369.01,290.15 L374.29,292.24 L379.56,294.36 L384.83,296.49 L390.11,298.64 L395.38,300.81 L400.66,302.99 L405.93,305.20 L411.21,307.42 L416.48,309.66 L421.76,311.93 L427.03,314.22 L432.31,316.55 L437.58,318.92 L442.85,321.35 L448.13,323.83 L453.40,326.38 L458.68,329.01 L463.95,331.72 L469.23,334.54 L474.50,337.46 L479.78,340.49 L485.05,343.66 L490.33,346.97 L495.60,350.44" fill="none" stroke="#111" stroke-width="1.65" stroke-linejoin="round" stroke-linecap="butt" />
<path d="M97.55,240.08 L106.02,240.94 L114.48,241.83 L122.95,242.75 L131.41,243.72 L139.88,244.73 L148.34,245.80 L156.81,246.92 L165.27,248.09 L173.74,249.33 L182.20,250.61 L190.67,251.95 L199.13,253.34 L207.60,254.76" fill="none" stroke="#262626" stroke-width="1.12" stroke-linejoin="round" stroke-linecap="butt" />
<path d="M207.10,254.68 L212.36,255.58 L217.62,256.50 L222.88,257.44 L228.14,258.40 L233.40,259.39 L238.66,260.40 L243.92,261.44 L249.18,262.52 L254.44,263.64 L259.70,264.79 L264.96,265.99 L270.22,267.23 L275.48,268.52 L280.74,269.86 L286.00,271.25 L291.26,272.70 L296.52,274.21 L301.78,275.79 L307.04,277.42 L312.30,279.12 L317.56,280.87 L322.82,282.68 L328.08,284.53 L333.34,286.42 L338.60,288.36 L343.86,290.33 L349.12,292.33 L354.38,294.35 L359.64,296.40 L364.90,298.48 L370.16,300.57 L375.42,302.68 L380.68,304.80 L385.94,306.93 L391.20,309.07 L396.46,311.22 L401.72,313.38 L406.98,315.54 L412.24,317.71 L417.50,319.88 L422.76,322.06 L428.02,324.25 L433.28,326.47 L438.54,328.71 L443.80,330.99 L449.06,333.33 L454.32,335.71 L459.58,338.17 L464.84,340.70 L470.10,343.32 L475.36,346.03 L480.62,348.86 L485.88,351.81 L491.14,354.89 L496.40,358.17" fill="none" stroke="#111" stroke-width="1.65" stroke-linejoin="round" stroke-linecap="butt" />
<path d="M97.55,255.31 L106.14,255.96 L114.73,256.63 L123.32,257.34 L131.90,258.09 L140.49,258.90 L149.08,259.77 L157.67,260.70 L166.26,261.69 L174.85,262.75 L183.43,263.87 L192.02,265.06 L200.61,266.31 L209.20,267.62" fill="none" stroke="#262626" stroke-width="1.12" stroke-linejoin="round" stroke-linecap="butt" />
<path d="M208.70,267.55 L213.92,268.37 L219.13,269.21 L224.35,270.08 L229.57,270.97 L234.78,271.90 L240.00,272.85 L245.21,273.84 L250.43,274.86 L255.65,275.92 L260.86,277.02 L266.08,278.15 L271.30,279.33 L276.51,280.56 L281.73,281.83 L286.95,283.15 L292.16,284.52 L297.38,285.94 L302.59,287.41 L307.81,288.95 L313.03,290.53 L318.24,292.16 L323.46,293.83 L328.68,295.54 L333.89,297.30 L339.11,299.08 L344.33,300.89 L349.54,302.73 L354.76,304.60 L359.97,306.48 L365.19,308.39 L370.41,310.31 L375.62,312.25 L380.84,314.20 L386.06,316.16 L391.27,318.12 L396.49,320.10 L401.71,322.09 L406.92,324.08 L412.14,326.08 L417.35,328.08 L422.57,330.10 L427.79,332.13 L433.00,334.18 L438.22,336.25 L443.44,338.37 L448.65,340.53 L453.87,342.74 L459.09,345.01 L464.30,347.35 L469.52,349.77 L474.73,352.28 L479.95,354.89 L485.17,357.61 L490.38,360.45 L495.60,363.42" fill="none" stroke="#111" stroke-width="1.65" stroke-linejoin="round" stroke-linecap="butt" />
<path d="M97.55,268.81 L106.26,269.46 L114.97,270.14 L123.68,270.84 L132.40,271.59 L141.11,272.38 L149.82,273.22 L158.53,274.12 L167.24,275.06 L175.95,276.06 L184.67,277.11 L193.38,278.21 L202.09,279.35 L210.80,280.53" fill="none" stroke="#262626" stroke-width="1.12" stroke-linejoin="round" stroke-linecap="butt" />
<path d="M210.30,280.46 L215.50,281.18 L220.70,281.92 L225.91,282.68 L231.11,283.46 L236.31,284.27 L241.51,285.11 L246.71,285.98 L251.91,286.89 L257.12,287.84 L262.32,288.82 L267.52,289.86 L272.72,290.94 L277.92,292.07 L283.13,293.25 L288.33,294.49 L293.53,295.79 L298.73,297.15 L303.93,298.58 L309.13,300.07 L314.34,301.62 L319.54,303.23 L324.74,304.88 L329.94,306.59 L335.14,308.33 L340.35,310.10 L345.55,311.91 L350.75,313.74 L355.95,315.59 L361.15,317.46 L366.35,319.35 L371.56,321.24 L376.76,323.14 L381.96,325.04 L387.16,326.95 L392.36,328.85 L397.57,330.74 L402.77,332.62 L407.97,334.50 L413.17,336.36 L418.37,338.21 L423.57,340.04 L428.78,341.87 L433.98,343.71 L439.18,345.55 L444.38,347.42 L449.58,349.31 L454.79,351.24 L459.99,353.22 L465.19,355.25 L470.39,357.35 L475.59,359.52 L480.79,361.78 L486.00,364.14 L491.20,366.62 L496.40,369.27" fill="none" stroke="#111" stroke-width="1.65" stroke-linejoin="round" stroke-linecap="butt" />
<path d="M97.55,282.55 L106.38,283.15 L115.22,283.77 L124.05,284.43 L132.89,285.13 L141.72,285.89 L150.56,286.71 L159.39,287.59 L168.23,288.55 L177.06,289.57 L185.90,290.67 L194.73,291.85 L203.57,293.09 L212.40,294.40" fill="none" stroke="#262626" stroke-width="1.12" stroke-linejoin="round" stroke-linecap="butt" />
<path d="M211.90,294.33 L217.06,295.12 L222.22,295.94 L227.37,296.79 L232.53,297.66 L237.69,298.56 L242.85,299.49 L248.01,300.44 L253.17,301.42 L258.32,302.44 L263.48,303.48 L268.64,304.55 L273.80,305.65 L278.96,306.78 L284.11,307.94 L289.27,309.14 L294.43,310.36 L299.59,311.62 L304.75,312.92 L309.91,314.25 L315.06,315.61 L320.22,316.99 L325.38,318.40 L330.54,319.84 L335.70,321.30 L340.85,322.77 L346.01,324.26 L351.17,325.77 L356.33,327.29 L361.49,328.83 L366.65,330.37 L371.80,331.93 L376.96,333.49 L382.12,335.06 L387.28,336.64 L392.44,338.23 L397.59,339.82 L402.75,341.42 L407.91,343.03 L413.07,344.65 L418.23,346.27 L423.39,347.91 L428.54,349.56 L433.70,351.23 L438.86,352.93 L444.02,354.67 L449.18,356.44 L454.33,358.26 L459.49,360.14 L464.65,362.07 L469.81,364.07 L474.97,366.15 L480.13,368.31 L485.28,370.57 L490.44,372.93 L495.60,375.40" fill="none" stroke="#111" stroke-width="1.65" stroke-linejoin="round" stroke-linecap="butt" />
<path d="M97.55,296.30 L106.51,296.85 L115.47,297.43 L124.42,298.05 L133.38,298.73 L142.34,299.46 L151.30,300.26 L160.25,301.13 L169.21,302.09 L178.17,303.13 L187.13,304.26 L196.08,305.48 L205.04,306.79 L214.00,308.18" fill="none" stroke="#262626" stroke-width="1.12" stroke-linejoin="round" stroke-linecap="butt" />
<path d="M213.50,308.10 L218.64,308.94 L223.79,309.81 L228.93,310.71 L234.07,311.63 L239.22,312.57 L244.36,313.55 L249.51,314.54 L254.65,315.56 L259.79,316.60 L264.94,317.66 L270.08,318.74 L275.22,319.83 L280.37,320.95 L285.51,322.08 L290.65,323.23 L295.80,324.39 L300.94,325.57 L306.09,326.76 L311.23,327.97 L316.37,329.18 L321.52,330.41 L326.66,331.64 L331.80,332.89 L336.95,334.14 L342.09,335.40 L347.23,336.67 L352.38,337.95 L357.52,339.24 L362.67,340.53 L367.81,341.83 L372.95,343.14 L378.10,344.46 L383.24,345.79 L388.38,347.13 L393.53,348.49 L398.67,349.85 L403.81,351.23 L408.96,352.63 L414.10,354.04 L419.25,355.48 L424.39,356.94 L429.53,358.43 L434.68,359.95 L439.82,361.50 L444.96,363.10 L450.11,364.74 L455.25,366.43 L460.39,368.19 L465.54,370.00 L470.68,371.88 L475.83,373.84 L480.97,375.88 L486.11,378.01 L491.26,380.23 L496.40,382.59" fill="none" stroke="#111" stroke-width="1.65" stroke-linejoin="round" stroke-linecap="butt" />
<path d="M97.55,308.05 L106.63,308.57 L115.71,309.11 L124.79,309.70 L133.87,310.33 L142.95,311.03 L152.03,311.80 L161.12,312.65 L170.20,313.58 L179.28,314.60 L188.36,315.71 L197.44,316.91 L206.52,318.22 L215.60,319.62" fill="none" stroke="#262626" stroke-width="1.05" stroke-linejoin="round" stroke-linecap="butt" />
<path d="M215.10,319.54 L220.20,320.36 L225.30,321.22 L230.40,322.10 L235.50,323.01 L240.60,323.94 L245.70,324.89 L250.80,325.87 L255.90,326.87 L261.00,327.88 L266.10,328.92 L271.20,329.97 L276.30,331.04 L281.40,332.12 L286.50,333.22 L291.60,334.32 L296.70,335.44 L301.80,336.57 L306.90,337.70 L312.00,338.84 L317.10,339.99 L322.20,341.15 L327.30,342.30 L332.40,343.47 L337.50,344.63 L342.60,345.80 L347.70,346.96 L352.80,348.13 L357.90,349.30 L363.00,350.48 L368.10,351.65 L373.20,352.82 L378.30,353.99 L383.40,355.17 L388.50,356.35 L393.60,357.53 L398.70,358.71 L403.80,359.90 L408.90,361.10 L414.00,362.30 L419.10,363.51 L424.20,364.74 L429.30,365.98 L434.40,367.24 L439.50,368.53 L444.60,369.85 L449.70,371.20 L454.80,372.59 L459.90,374.03 L465.00,375.51 L470.10,377.06 L475.20,378.67 L480.30,380.35 L485.40,382.11 L490.50,383.95 L495.60,385.89" fill="none" stroke="#111" stroke-width="1.65" stroke-linejoin="round" stroke-linecap="butt" />
<path d="M97.55,320.04 L106.75,320.51 L115.96,321.00 L125.16,321.52 L134.37,322.10 L143.57,322.73 L152.77,323.43 L161.98,324.20 L171.18,325.06 L180.38,326.00 L189.59,327.02 L198.79,328.14 L208.00,329.34 L217.20,330.65" fill="none" stroke="#262626" stroke-width="1.05" stroke-linejoin="round" stroke-linecap="butt" />
<path d="M216.70,330.57 L221.79,331.33 L226.87,332.11 L231.96,332.92 L237.04,333.75 L242.13,334.60 L247.21,335.48 L252.30,336.39 L257.38,337.31 L262.47,338.26 L267.55,339.22 L272.64,340.20 L277.73,341.20 L282.81,342.22 L287.90,343.26 L292.98,344.31 L298.07,345.37 L303.15,346.45 L308.24,347.54 L313.32,348.65 L318.41,349.76 L323.49,350.88 L328.58,352.00 L333.67,353.13 L338.75,354.26 L343.84,355.39 L348.92,356.52 L354.01,357.65 L359.09,358.77 L364.18,359.89 L369.26,361.01 L374.35,362.12 L379.43,363.22 L384.52,364.31 L389.61,365.39 L394.69,366.47 L399.78,367.54 L404.86,368.59 L409.95,369.64 L415.03,370.68 L420.12,371.72 L425.20,372.74 L430.29,373.77 L435.37,374.81 L440.46,375.85 L445.55,376.91 L450.63,378.00 L455.72,379.11 L460.80,380.25 L465.89,381.43 L470.97,382.66 L476.06,383.93 L481.14,385.27 L486.23,386.68 L491.31,388.15 L496.40,389.79" fill="none" stroke="#111" stroke-width="1.65" stroke-linejoin="round" stroke-linecap="butt" />
<path d="M97.55,334.54 L106.88,335.06 L116.20,335.60 L125.53,336.17 L134.86,336.78 L144.18,337.43 L153.51,338.14 L162.84,338.90 L172.17,339.72 L181.49,340.60 L190.82,341.55 L200.15,342.56 L209.47,343.63 L218.80,344.76" fill="none" stroke="#262626" stroke-width="1.05" stroke-linejoin="round" stroke-linecap="butt" />
<path d="M218.30,344.70 L223.34,345.33 L228.38,345.99 L233.43,346.66 L238.47,347.34 L243.51,348.05 L248.55,348.77 L253.59,349.51 L258.63,350.26 L263.68,351.03 L268.72,351.82 L273.76,352.62 L278.80,353.44 L283.84,354.27 L288.89,355.12 L293.93,355.98 L298.97,356.86 L304.01,357.74 L309.05,358.65 L314.09,359.56 L319.14,360.49 L324.18,361.43 L329.22,362.37 L334.26,363.32 L339.30,364.27 L344.35,365.23 L349.39,366.20 L354.43,367.16 L359.47,368.13 L364.51,369.10 L369.55,370.07 L374.60,371.04 L379.64,372.01 L384.68,372.98 L389.72,373.95 L394.76,374.91 L399.81,375.88 L404.85,376.84 L409.89,377.81 L414.93,378.78 L419.97,379.74 L425.01,380.71 L430.06,381.69 L435.10,382.68 L440.14,383.69 L445.18,384.71 L450.22,385.76 L455.27,386.83 L460.31,387.94 L465.35,389.09 L470.39,390.28 L475.43,391.52 L480.47,392.81 L485.52,394.16 L490.56,395.57 L495.60,397.07" fill="none" stroke="#111" stroke-width="1.65" stroke-linejoin="round" stroke-linecap="butt" />
<path d="M97.55,349.27 L107.00,349.57 L116.45,349.89 L125.90,350.25 L135.35,350.64 L144.80,351.08 L154.25,351.58 L163.70,352.14 L173.15,352.77 L182.60,353.48 L192.05,354.26 L201.50,355.12 L210.95,356.06 L220.40,357.08" fill="none" stroke="#262626" stroke-width="1.05" stroke-linejoin="round" stroke-linecap="butt" />
<path d="M219.90,357.03 L224.93,357.60 L229.95,358.19 L234.98,358.80 L240.01,359.43 L245.04,360.08 L250.06,360.74 L255.09,361.42 L260.12,362.11 L265.15,362.81 L270.17,363.53 L275.20,364.26 L280.23,364.99 L285.25,365.74 L290.28,366.49 L295.31,367.25 L300.34,368.02 L305.36,368.79 L310.39,369.57 L315.42,370.35 L320.45,371.13 L325.47,371.92 L330.50,372.71 L335.53,373.50 L340.55,374.29 L345.58,375.08 L350.61,375.87 L355.64,376.67 L360.66,377.46 L365.69,378.26 L370.72,379.05 L375.75,379.84 L380.77,380.64 L385.80,381.44 L390.83,382.24 L395.85,383.04 L400.88,383.84 L405.91,384.65 L410.94,385.46 L415.96,386.28 L420.99,387.10 L426.02,387.94 L431.05,388.78 L436.07,389.64 L441.10,390.52 L446.13,391.42 L451.15,392.34 L456.18,393.30 L461.21,394.28 L466.24,395.30 L471.26,396.35 L476.29,397.45 L481.32,398.60 L486.35,399.80 L491.37,401.05 L496.40,402.40" fill="none" stroke="#111" stroke-width="1.65" stroke-linejoin="round" stroke-linecap="butt" />
<path d="M97.55,363.02 L107.12,363.31 L116.70,363.61 L126.27,363.92 L135.84,364.27 L145.42,364.64 L154.99,365.04 L164.56,365.48 L174.13,365.95 L183.71,366.45 L193.28,366.99 L202.85,367.56 L212.43,368.16 L222.00,368.79" fill="none" stroke="#262626" stroke-width="1.05" stroke-linejoin="round" stroke-linecap="butt" />
<path d="M221.50,368.75 L226.48,369.10 L231.47,369.45 L236.45,369.82 L241.43,370.21 L246.42,370.61 L251.40,371.03 L256.39,371.47 L261.37,371.93 L266.35,372.41 L271.34,372.91 L276.32,373.43 L281.30,373.98 L286.29,374.56 L291.27,375.17 L296.25,375.80 L301.24,376.46 L306.22,377.16 L311.21,377.88 L316.19,378.63 L321.17,379.41 L326.16,380.20 L331.14,381.01 L336.12,381.84 L341.11,382.68 L346.09,383.53 L351.07,384.39 L356.06,385.25 L361.04,386.12 L366.03,386.99 L371.01,387.85 L375.99,388.72 L380.98,389.57 L385.96,390.42 L390.94,391.26 L395.93,392.09 L400.91,392.91 L405.89,393.71 L410.88,394.50 L415.86,395.26 L420.85,396.01 L425.83,396.75 L430.81,397.47 L435.80,398.19 L440.78,398.90 L445.76,399.61 L450.75,400.33 L455.73,401.05 L460.71,401.79 L465.70,402.55 L470.68,403.32 L475.67,404.13 L480.65,404.97 L485.63,405.85 L490.62,406.77 L495.60,407.75" fill="none" stroke="#111" stroke-width="1.65" stroke-linejoin="round" stroke-linecap="butt" />
<path d="M97.55,374.28 L107.25,374.65 L116.94,375.03 L126.64,375.43 L136.33,375.85 L146.03,376.29 L155.73,376.75 L165.42,377.24 L175.12,377.76 L184.82,378.30 L194.51,378.86 L204.21,379.44 L213.90,380.04 L223.60,380.66" fill="none" stroke="#262626" stroke-width="1.05" stroke-linejoin="round" stroke-linecap="butt" />
<path d="M223.10,380.63 L228.07,380.95 L233.04,381.29 L238.01,381.63 L242.98,381.98 L247.95,382.35 L252.91,382.72 L257.88,383.11 L262.85,383.51 L267.82,383.93 L272.79,384.36 L277.76,384.81 L282.73,385.27 L287.70,385.76 L292.67,386.26 L297.64,386.78 L302.61,387.32 L307.57,387.89 L312.54,388.47 L317.51,389.07 L322.48,389.69 L327.45,390.33 L332.42,390.97 L337.39,391.63 L342.36,392.30 L347.33,392.98 L352.30,393.66 L357.27,394.35 L362.23,395.05 L367.20,395.75 L372.17,396.45 L377.14,397.15 L382.11,397.85 L387.08,398.55 L392.05,399.25 L397.02,399.95 L401.99,400.65 L406.96,401.34 L411.93,402.03 L416.89,402.71 L421.86,403.39 L426.83,404.06 L431.80,404.74 L436.77,405.42 L441.74,406.11 L446.71,406.80 L451.68,407.51 L456.65,408.23 L461.62,408.98 L466.59,409.74 L471.55,410.53 L476.52,411.35 L481.49,412.20 L486.46,413.09 L491.43,414.02 L496.40,415.03" fill="none" stroke="#111" stroke-width="1.65" stroke-linejoin="round" stroke-linecap="butt" />
<path d="M97.55,387.52 L107.37,387.72 L117.19,387.94 L127.01,388.18 L136.83,388.45 L146.65,388.74 L156.47,389.07 L166.28,389.44 L176.10,389.85 L185.92,390.30 L195.74,390.80 L205.56,391.34 L215.38,391.92 L225.20,392.55" fill="none" stroke="#262626" stroke-width="1.05" stroke-linejoin="round" stroke-linecap="butt" />
<path d="M224.70,392.52 L229.63,392.85 L234.55,393.19 L239.48,393.55 L244.40,393.91 L249.33,394.29 L254.25,394.68 L259.18,395.07 L264.10,395.48 L269.03,395.90 L273.95,396.33 L278.88,396.76 L283.81,397.21 L288.73,397.67 L293.66,398.14 L298.58,398.61 L303.51,399.10 L308.43,399.59 L313.36,400.10 L318.28,400.61 L323.21,401.12 L328.13,401.64 L333.06,402.16 L337.99,402.69 L342.91,403.22 L347.84,403.74 L352.76,404.27 L357.69,404.80 L362.61,405.32 L367.54,405.84 L372.46,406.36 L377.39,406.87 L382.31,407.38 L387.24,407.88 L392.17,408.38 L397.09,408.87 L402.02,409.36 L406.94,409.83 L411.87,410.30 L416.79,410.76 L421.72,411.22 L426.64,411.67 L431.57,412.12 L436.49,412.56 L441.42,413.01 L446.35,413.47 L451.27,413.93 L456.20,414.39 L461.12,414.87 L466.05,415.37 L470.97,415.88 L475.90,416.42 L480.82,416.98 L485.75,417.56 L490.67,418.18 L495.60,418.84" fill="none" stroke="#111" stroke-width="1.65" stroke-linejoin="round" stroke-linecap="butt" />
<path d="M97.55,399.51 L107.49,399.67 L117.43,399.84 L127.38,400.02 L137.32,400.23 L147.26,400.47 L157.20,400.73 L167.15,401.03 L177.09,401.37 L187.03,401.75 L196.97,402.17 L206.92,402.63 L216.86,403.13 L226.80,403.68" fill="none" stroke="#262626" stroke-width="1.05" stroke-linejoin="round" stroke-linecap="butt" />
<path d="M226.30,403.65 L231.21,403.94 L236.12,404.23 L241.03,404.54 L245.94,404.85 L250.85,405.17 L255.77,405.50 L260.68,405.84 L265.59,406.18 L270.50,406.53 L275.41,406.89 L280.32,407.26 L285.23,407.63 L290.14,408.01 L295.05,408.39 L299.96,408.78 L304.87,409.17 L309.79,409.57 L314.70,409.97 L319.61,410.38 L324.52,410.78 L329.43,411.19 L334.34,411.60 L339.25,412.00 L344.16,412.41 L349.07,412.81 L353.98,413.21 L358.89,413.61 L363.81,414.00 L368.72,414.39 L373.63,414.77 L378.54,415.15 L383.45,415.52 L388.36,415.88 L393.27,416.24 L398.18,416.59 L403.09,416.93 L408.00,417.27 L412.91,417.59 L417.83,417.91 L422.74,418.22 L427.65,418.52 L432.56,418.82 L437.47,419.12 L442.38,419.42 L447.29,419.72 L452.20,420.02 L457.11,420.33 L462.02,420.65 L466.93,420.97 L471.85,421.31 L476.76,421.67 L481.67,422.04 L486.58,422.43 L491.49,422.85 L496.40,423.33" fill="none" stroke="#111" stroke-width="1.65" stroke-linejoin="round" stroke-linecap="butt" />
<path d="M97.55,415.00 L107.62,415.03 L117.68,415.07 L127.75,415.11 L137.81,415.17 L147.88,415.23 L157.94,415.32 L168.01,415.42 L178.07,415.53 L188.14,415.67 L198.20,415.82 L208.27,416.00 L218.33,416.19 L228.40,416.41" fill="none" stroke="#262626" stroke-width="1.05" stroke-linejoin="round" stroke-linecap="butt" />
<path d="M227.90,416.40 L232.77,416.51 L237.63,416.63 L242.50,416.75 L247.37,416.88 L252.24,417.02 L257.10,417.16 L261.97,417.31 L266.84,417.47 L271.71,417.63 L276.57,417.80 L281.44,417.98 L286.31,418.17 L291.17,418.36 L296.04,418.56 L300.91,418.77 L305.78,418.99 L310.64,419.22 L315.51,419.45 L320.38,419.69 L325.25,419.94 L330.11,420.19 L334.98,420.44 L339.85,420.70 L344.71,420.96 L349.58,421.22 L354.45,421.48 L359.32,421.73 L364.18,421.99 L369.05,422.25 L373.92,422.50 L378.79,422.75 L383.65,423.00 L388.52,423.24 L393.39,423.48 L398.25,423.71 L403.12,423.94 L407.99,424.15 L412.86,424.36 L417.72,424.57 L422.59,424.76 L427.46,424.95 L432.33,425.13 L437.19,425.31 L442.06,425.49 L446.93,425.66 L451.79,425.83 L456.66,426.01 L461.53,426.19 L466.40,426.37 L471.26,426.55 L476.13,426.74 L481.00,426.94 L485.87,427.15 L490.73,427.38 L495.60,427.61" fill="none" stroke="#111" stroke-width="1.65" stroke-linejoin="round" stroke-linecap="butt" />
<rect x="102.8" y="85.85" width="2.7" height="1.9" fill="#111"/>
<text x="105.40" y="89.35" font-size="9.2" text-anchor="start" fill="#1a1a1a" >26</text>
<rect x="102.8" y="100.60" width="2.7" height="1.9" fill="#111"/>
<text x="105.40" y="104.10" font-size="9.2" text-anchor="start" fill="#1a1a1a" >25</text>
<rect x="102.8" y="114.60" width="2.7" height="1.9" fill="#111"/>
<text x="105.40" y="118.10" font-size="9.2" text-anchor="start" fill="#1a1a1a" >24</text>
<rect x="102.8" y="128.35" width="2.7" height="1.9" fill="#111"/>
<text x="105.40" y="131.85" font-size="9.2" text-anchor="start" fill="#1a1a1a" >23</text>
<rect x="102.2" y="142.60" width="3.3" height="1.0" fill="#111"/>
<text x="105.40" y="145.60" font-size="9.2" text-anchor="start" fill="#1a1a1a" >22</text>
<rect x="102.8" y="155.85" width="2.7" height="1.9" fill="#111"/>
<text x="105.40" y="159.35" font-size="9.2" text-anchor="start" fill="#1a1a1a" >21</text>
<rect x="102.8" y="168.85" width="2.7" height="1.9" fill="#111"/>
<text x="105.40" y="172.35" font-size="9.2" text-anchor="start" fill="#1a1a1a" >20</text>
<rect x="102.8" y="179.35" width="2.7" height="1.9" fill="#111"/>
<text x="105.40" y="182.85" font-size="9.2" text-anchor="start" fill="#1a1a1a" >19</text>
<rect x="102.8" y="193.10" width="2.7" height="1.9" fill="#111"/>
<text x="105.40" y="196.60" font-size="9.2" text-anchor="start" fill="#1a1a1a" >18</text>
<rect x="102.8" y="208.35" width="2.7" height="1.9" fill="#111"/>
<text x="105.40" y="211.85" font-size="9.2" text-anchor="start" fill="#1a1a1a" >17</text>
<rect x="102.2" y="222.85" width="3.3" height="1.0" fill="#111"/>
<text x="105.40" y="225.85" font-size="9.2" text-anchor="start" fill="#1a1a1a" >16</text>
<rect x="102.8" y="235.85" width="2.7" height="1.9" fill="#111"/>
<text x="105.40" y="239.35" font-size="9.2" text-anchor="start" fill="#1a1a1a" >15</text>
<rect x="102.2" y="252.70" width="3.3" height="1.0" fill="#111"/>
<text x="105.40" y="255.70" font-size="9.2" text-anchor="start" fill="#1a1a1a" >14</text>
<rect x="102.8" y="264.60" width="2.7" height="1.9" fill="#111"/>
<text x="105.40" y="268.10" font-size="9.2" text-anchor="start" fill="#1a1a1a" >13</text>
<rect x="102.2" y="279.60" width="3.3" height="1.0" fill="#111"/>
<text x="105.40" y="282.60" font-size="9.2" text-anchor="start" fill="#1a1a1a" >12</text>
<rect x="102.8" y="289.85" width="2.7" height="1.9" fill="#111"/>
<text x="105.40" y="293.35" font-size="9.2" text-anchor="start" fill="#1a1a1a" >11</text>
<rect x="102.8" y="302.85" width="2.7" height="1.9" fill="#111"/>
<text x="105.40" y="306.35" font-size="9.2" text-anchor="start" fill="#1a1a1a" >10</text>
<rect x="102.7" y="315.60" width="3.3" height="1.0" fill="#111"/>
<text x="105.90" y="318.60" font-size="9.2" text-anchor="start" fill="#1a1a1a" >9</text>
<rect x="103.3" y="328.60" width="2.7" height="1.9" fill="#111"/>
<text x="105.90" y="332.10" font-size="9.2" text-anchor="start" fill="#1a1a1a" >8</text>
<rect x="103.3" y="340.35" width="2.7" height="1.9" fill="#111"/>
<text x="105.90" y="343.85" font-size="9.2" text-anchor="start" fill="#1a1a1a" >7</text>
<rect x="103.3" y="354.60" width="2.7" height="1.9" fill="#111"/>
<text x="105.90" y="358.10" font-size="9.2" text-anchor="start" fill="#1a1a1a" >6</text>
<rect x="102.7" y="367.85" width="3.3" height="1.0" fill="#111"/>
<text x="105.90" y="370.85" font-size="9.2" text-anchor="start" fill="#1a1a1a" >5</text>
<rect x="102.7" y="381.35" width="3.3" height="1.0" fill="#111"/>
<text x="105.90" y="384.35" font-size="9.2" text-anchor="start" fill="#1a1a1a" >4</text>
<rect x="103.3" y="393.35" width="2.7" height="1.9" fill="#111"/>
<text x="105.90" y="396.85" font-size="9.2" text-anchor="start" fill="#1a1a1a" >3</text>
<rect x="103.3" y="407.35" width="2.7" height="1.9" fill="#111"/>
<text x="105.90" y="410.85" font-size="9.2" text-anchor="start" fill="#1a1a1a" >2</text>
<line x1="96.50" y1="475.50" x2="96.50" y2="609.25" stroke="#141414" stroke-width="1.0" />
<line x1="116.50" y1="475.50" x2="116.50" y2="609.25" stroke="#141414" stroke-width="1.0" />
<line x1="139.50" y1="475.50" x2="139.50" y2="609.25" stroke="#141414" stroke-width="1.0" />
<line x1="163.50" y1="475.50" x2="163.50" y2="609.25" stroke="#141414" stroke-width="1.0" />
<line x1="185.50" y1="475.50" x2="185.50" y2="609.25" stroke="#141414" stroke-width="1.0" />
<line x1="208.50" y1="475.50" x2="208.50" y2="609.25" stroke="#141414" stroke-width="1.0" />
<line x1="232.50" y1="475.50" x2="232.50" y2="609.25" stroke="#141414" stroke-width="1.0" />
<line x1="255.50" y1="475.50" x2="255.50" y2="609.25" stroke="#141414" stroke-width="1.0" />
<line x1="277.50" y1="475.50" x2="277.50" y2="609.25" stroke="#141414" stroke-width="1.0" />
<line x1="301.50" y1="475.50" x2="301.50" y2="609.25" stroke="#141414" stroke-width="1.0" />
<line x1="323.50" y1="475.50" x2="323.50" y2="609.25" stroke="#141414" stroke-width="1.0" />
<line x1="347.50" y1="475.50" x2="347.50" y2="609.25" stroke="#141414" stroke-width="1.0" />
<line x1="370.50" y1="475.50" x2="370.50" y2="609.25" stroke="#141414" stroke-width="1.0" />
<line x1="392.50" y1="475.50" x2="392.50" y2="609.25" stroke="#141414" stroke-width="1.0" />
<line x1="416.50" y1="475.50" x2="416.50" y2="609.25" stroke="#141414" stroke-width="1.0" />
<line x1="439.50" y1="475.50" x2="439.50" y2="609.25" stroke="#141414" stroke-width="1.0" />
<line x1="461.50" y1="475.50" x2="461.50" y2="609.25" stroke="#141414" stroke-width="1.0" />
<line x1="485.50" y1="475.50" x2="485.50" y2="609.25" stroke="#141414" stroke-width="1.0" />
<line x1="508.50" y1="475.50" x2="508.50" y2="609.25" stroke="#141414" stroke-width="1.0" />
<line x1="531.50" y1="475.50" x2="531.50" y2="609.25" stroke="#141414" stroke-width="1.0" />
<line x1="93.80" y1="475.50" x2="531.60" y2="475.50" stroke="#141414" stroke-width="1.0" />
<line x1="93.80" y1="502.50" x2="531.60" y2="502.50" stroke="#141414" stroke-width="1.0" />
<line x1="93.80" y1="529.50" x2="531.60" y2="529.50" stroke="#141414" stroke-width="1.0" />
<line x1="93.80" y1="555.50" x2="531.60" y2="555.50" stroke="#141414" stroke-width="1.0" />
<line x1="93.80" y1="582.50" x2="531.60" y2="582.50" stroke="#141414" stroke-width="1.0" />
<line x1="93.80" y1="609.50" x2="531.60" y2="609.50" stroke="#141414" stroke-width="1.0" />
<line x1="96.50" y1="609.25" x2="96.50" y2="612.05" stroke="#141414" stroke-width="1.0" />
<text x="96.40" y="623.80" font-size="11.5" text-anchor="middle" fill="#1a1a1a" >0.0</text>
<line x1="116.50" y1="609.25" x2="116.50" y2="612.05" stroke="#141414" stroke-width="1.0" />
<text x="116.65" y="623.80" font-size="11.5" text-anchor="middle" fill="#1a1a1a" >0.2</text>
<line x1="139.50" y1="609.25" x2="139.50" y2="612.05" stroke="#141414" stroke-width="1.0" />
<text x="139.40" y="623.80" font-size="11.5" text-anchor="middle" fill="#1a1a1a" >0.4</text>
<line x1="163.50" y1="609.25" x2="163.50" y2="612.05" stroke="#141414" stroke-width="1.0" />
<text x="163.15" y="623.80" font-size="11.5" text-anchor="middle" fill="#1a1a1a" >0.6</text>
<line x1="185.50" y1="609.25" x2="185.50" y2="612.05" stroke="#141414" stroke-width="1.0" />
<text x="185.50" y="623.80" font-size="11.5" text-anchor="middle" fill="#1a1a1a" >0.8</text>
<line x1="208.50" y1="609.25" x2="208.50" y2="612.05" stroke="#141414" stroke-width="1.0" />
<text x="208.65" y="623.80" font-size="11.5" text-anchor="middle" fill="#1a1a1a" >1.0</text>
<line x1="232.50" y1="609.25" x2="232.50" y2="612.05" stroke="#141414" stroke-width="1.0" />
<text x="232.40" y="623.80" font-size="11.5" text-anchor="middle" fill="#1a1a1a" >1.2</text>
<line x1="255.50" y1="609.25" x2="255.50" y2="612.05" stroke="#141414" stroke-width="1.0" />
<text x="255.20" y="623.80" font-size="11.5" text-anchor="middle" fill="#1a1a1a" >1.4</text>
<line x1="277.50" y1="609.25" x2="277.50" y2="612.05" stroke="#141414" stroke-width="1.0" />
<text x="277.40" y="623.80" font-size="11.5" text-anchor="middle" fill="#1a1a1a" >1.6</text>
<line x1="301.50" y1="609.25" x2="301.50" y2="612.05" stroke="#141414" stroke-width="1.0" />
<text x="301.40" y="623.80" font-size="11.5" text-anchor="middle" fill="#1a1a1a" >1.8</text>
<line x1="323.50" y1="609.25" x2="323.50" y2="612.05" stroke="#141414" stroke-width="1.0" />
<text x="323.40" y="623.80" font-size="11.5" text-anchor="middle" fill="#1a1a1a" >2.0</text>
<line x1="347.50" y1="609.25" x2="347.50" y2="612.05" stroke="#141414" stroke-width="1.0" />
<text x="347.40" y="623.80" font-size="11.5" text-anchor="middle" fill="#1a1a1a" >2.2</text>
<line x1="370.50" y1="609.25" x2="370.50" y2="612.05" stroke="#141414" stroke-width="1.0" />
<text x="370.40" y="623.80" font-size="11.5" text-anchor="middle" fill="#1a1a1a" >2.4</text>
<line x1="392.50" y1="609.25" x2="392.50" y2="612.05" stroke="#141414" stroke-width="1.0" />
<text x="392.40" y="623.80" font-size="11.5" text-anchor="middle" fill="#1a1a1a" >2.6</text>
<line x1="416.50" y1="609.25" x2="416.50" y2="612.05" stroke="#141414" stroke-width="1.0" />
<text x="416.15" y="623.80" font-size="11.5" text-anchor="middle" fill="#1a1a1a" >2.8</text>
<line x1="439.50" y1="609.25" x2="439.50" y2="612.05" stroke="#141414" stroke-width="1.0" />
<text x="439.40" y="623.80" font-size="11.5" text-anchor="middle" fill="#1a1a1a" >3.0</text>
<line x1="461.50" y1="609.25" x2="461.50" y2="612.05" stroke="#141414" stroke-width="1.0" />
<text x="461.65" y="623.80" font-size="11.5" text-anchor="middle" fill="#1a1a1a" >3.2</text>
<line x1="485.50" y1="609.25" x2="485.50" y2="612.05" stroke="#141414" stroke-width="1.0" />
<line x1="508.50" y1="609.25" x2="508.50" y2="612.05" stroke="#141414" stroke-width="1.0" />
<text x="498.3" y="624.6" font-size="11.2" fill="#1a1a1a">Q[m<tspan font-size="5.8" dy="-4.4">3</tspan><tspan dy="4.4">/h]</tspan></text>
<text x="89.60" y="506.00" font-size="11.5" text-anchor="end" fill="#1a1a1a" >0.16</text>
<text x="89.60" y="533.20" font-size="11.5" text-anchor="end" fill="#1a1a1a" >0.12</text>
<text x="89.60" y="559.50" font-size="11.5" text-anchor="end" fill="#1a1a1a" >0.08</text>
<text x="89.60" y="586.40" font-size="11.5" text-anchor="end" fill="#1a1a1a" >0.04</text>
<text x="89.60" y="613.15" font-size="11.5" text-anchor="end" fill="#1a1a1a" >0.00</text>
<text x="79.80" y="473.20" font-size="11.3" text-anchor="middle" fill="#1a1a1a" >P2</text>
<text x="79.40" y="484.30" font-size="11.3" text-anchor="middle" fill="#1a1a1a" >[kW]</text>
<line x1="63.50" y1="475.50" x2="63.50" y2="609.25" stroke="#141414" stroke-width="1.0" />
<line x1="57.50" y1="609.50" x2="63.30" y2="609.50" stroke="#141414" stroke-width="1.0" />
<line x1="57.50" y1="596.50" x2="63.30" y2="596.50" stroke="#141414" stroke-width="1.0" />
<line x1="57.50" y1="584.50" x2="63.30" y2="584.50" stroke="#141414" stroke-width="1.0" />
<line x1="57.50" y1="571.50" x2="63.30" y2="571.50" stroke="#141414" stroke-width="1.0" />
<line x1="57.50" y1="559.50" x2="63.30" y2="559.50" stroke="#141414" stroke-width="1.0" />
<line x1="57.50" y1="546.50" x2="63.30" y2="546.50" stroke="#141414" stroke-width="1.0" />
<line x1="57.50" y1="534.50" x2="63.30" y2="534.50" stroke="#141414" stroke-width="1.0" />
<line x1="57.50" y1="521.50" x2="63.30" y2="521.50" stroke="#141414" stroke-width="1.0" />
<line x1="57.50" y1="509.50" x2="63.30" y2="509.50" stroke="#141414" stroke-width="1.0" />
<line x1="57.50" y1="496.50" x2="63.30" y2="496.50" stroke="#141414" stroke-width="1.0" />
<line x1="57.50" y1="484.50" x2="63.30" y2="484.50" stroke="#141414" stroke-width="1.0" />
<text x="53.90" y="612.55" font-size="11.5" text-anchor="end" fill="#1a1a1a" >0.0</text>
<text x="53.90" y="562.55" font-size="11.5" text-anchor="end" fill="#1a1a1a" >0.1</text>
<text x="53.90" y="512.55" font-size="11.5" text-anchor="end" fill="#1a1a1a" >0.2</text>
<text x="46.90" y="473.20" font-size="11.3" text-anchor="middle" fill="#1a1a1a" >P2</text>
<text x="46.90" y="484.30" font-size="11.3" text-anchor="middle" fill="#1a1a1a" >[hp]</text>
<line x1="531.60" y1="502.50" x2="535.60" y2="502.50" stroke="#141414" stroke-width="1.0" />
<text x="540.60" y="505.80" font-size="11.5" text-anchor="start" fill="#1a1a1a" >40</text>
<line x1="531.60" y1="529.50" x2="535.60" y2="529.50" stroke="#141414" stroke-width="1.0" />
<text x="540.60" y="533.00" font-size="11.5" text-anchor="start" fill="#1a1a1a" >30</text>
<line x1="531.60" y1="555.50" x2="535.60" y2="555.50" stroke="#141414" stroke-width="1.0" />
<text x="540.60" y="559.30" font-size="11.5" text-anchor="start" fill="#1a1a1a" >20</text>
<line x1="531.60" y1="582.50" x2="535.60" y2="582.50" stroke="#141414" stroke-width="1.0" />
<text x="540.60" y="586.20" font-size="11.5" text-anchor="start" fill="#1a1a1a" >10</text>
<line x1="531.60" y1="609.50" x2="535.60" y2="609.50" stroke="#141414" stroke-width="1.0" />
<text x="547.50" y="612.95" font-size="11.5" text-anchor="middle" fill="#1a1a1a" >0</text>
<text x="546.60" y="473.60" font-size="11.3" text-anchor="middle" fill="#1a1a1a" >Eta</text>
<text x="546.50" y="485.00" font-size="11.3" text-anchor="middle" fill="#1a1a1a" >[%]</text>
<path d="M96.50,608.96 L97.24,607.80 L97.99,606.64 L98.73,605.50 L99.48,604.37 L100.22,603.25 L100.97,602.14 L101.71,601.05 L102.46,599.97 L103.20,598.90 L103.95,597.84 L104.69,596.79 L105.44,595.75 L106.18,594.73 L106.92,593.71 L107.67,592.71 L108.41,591.72 L109.16,590.74 L109.90,589.77 L110.65,588.81 L111.39,587.86 L112.14,586.92 L112.88,586.00 L113.63,585.08 L114.37,584.17 L115.12,583.27 L115.86,582.39 L116.60,581.51 L117.35,580.64 L118.09,579.78 L118.84,578.94 L119.58,578.10 L120.33,577.27 L121.07,576.45 L121.82,575.64 L122.56,574.83 L123.31,574.04 L124.05,573.26 L124.79,572.48 L125.54,571.71 L126.28,570.95 L127.03,570.20 L127.77,569.46 L128.52,568.73 L129.26,568.00 L130.01,567.28 L130.75,566.57 L131.50,565.87 L132.24,565.18 L132.99,564.49 L133.73,563.81 L134.47,563.14 L135.22,562.48 L135.96,561.82 L136.71,561.17 L137.45,560.52 L138.20,559.89 L138.94,559.26 L139.69,558.63 L140.43,558.02 L141.18,557.41 L141.92,556.80 L142.67,556.21 L143.41,555.61 L144.15,555.03 L144.90,554.45 L145.64,553.87 L146.39,553.31 L147.13,552.74 L147.88,552.19 L148.62,551.63 L149.37,551.09 L150.11,550.55 L150.86,550.01 L151.60,549.48 L152.35,548.95 L153.09,548.43 L153.83,547.91 L154.58,547.40 L155.32,546.89 L156.07,546.39 L156.81,545.89 L157.56,545.40 L158.30,544.91 L159.05,544.42 L159.79,543.93 L160.54,543.46 L161.28,542.98 L162.03,542.51 L162.77,542.04 L163.51,541.57 L164.26,541.11 L165.00,540.65 L165.75,540.19 L166.49,539.74 L167.24,539.29 L167.98,538.84 L168.73,538.40 L169.47,537.95 L170.22,537.51 L170.96,537.07 L171.71,536.64 L172.45,536.20 L173.19,535.77 L173.94,535.34 L174.68,534.91 L175.43,534.49 L176.17,534.06 L176.92,533.64 L177.66,533.22 L178.41,532.81 L179.15,532.39 L179.90,531.98 L180.64,531.56 L181.38,531.16 L182.13,530.75 L182.87,530.34 L183.62,529.94 L184.36,529.54 L185.11,529.14 L185.85,528.74 L186.60,528.35 L187.34,527.96 L188.09,527.57 L188.83,527.18 L189.58,526.79 L190.32,526.41 L191.06,526.02 L191.81,525.64 L192.55,525.27 L193.30,524.89 L194.04,524.52 L194.79,524.15 L195.53,523.78 L196.28,523.41 L197.02,523.05 L197.77,522.68 L198.51,522.32 L199.26,521.96 L200.00,521.61" fill="none" stroke="#161616" stroke-width="1.12" stroke-linejoin="round" stroke-linecap="butt" />
<path d="M199.50,521.85 L201.63,520.84 L203.75,519.85 L205.88,518.87 L208.00,517.92 L210.13,516.98 L212.26,516.06 L214.38,515.16 L216.51,514.28 L218.63,513.42 L220.76,512.57 L222.88,511.75 L225.01,510.94 L227.14,510.15 L229.26,509.38 L231.39,508.63 L233.51,507.90 L235.64,507.19 L237.77,506.50 L239.89,505.82 L242.02,505.16 L244.14,504.52 L246.27,503.90 L248.40,503.29 L250.52,502.70 L252.65,502.12 L254.77,501.56 L256.90,501.01 L259.03,500.48 L261.15,499.96 L263.28,499.45 L265.40,498.96 L267.53,498.47 L269.65,498.00 L271.78,497.54 L273.91,497.09 L276.03,496.65 L278.16,496.22 L280.28,495.80 L282.41,495.39 L284.54,494.98 L286.66,494.59 L288.79,494.20 L290.91,493.83 L293.04,493.46 L295.17,493.10 L297.29,492.76 L299.42,492.42 L301.54,492.08 L303.67,491.76 L305.79,491.45 L307.92,491.14 L310.05,490.85 L312.17,490.56 L314.30,490.28 L316.42,490.01 L318.55,489.74 L320.68,489.49 L322.80,489.24 L324.93,489.00 L327.05,488.77 L329.18,488.55 L331.31,488.34 L333.43,488.13 L335.56,487.94 L337.68,487.75 L339.81,487.56 L341.94,487.39 L344.06,487.22 L346.19,487.07 L348.31,486.92 L350.44,486.77 L352.56,486.64 L354.69,486.51 L356.82,486.39 L358.94,486.28 L361.07,486.17 L363.19,486.07 L365.32,485.98 L367.45,485.90 L369.57,485.82 L371.70,485.76 L373.82,485.69 L375.95,485.64 L378.08,485.59 L380.20,485.55 L382.33,485.52 L384.45,485.49 L386.58,485.47 L388.71,485.46 L390.83,485.45 L392.96,485.45 L395.08,485.46 L397.21,485.48 L399.33,485.50 L401.46,485.53 L403.59,485.57 L405.71,485.62 L407.84,485.67 L409.96,485.74 L412.09,485.82 L414.22,485.91 L416.34,486.01 L418.47,486.12 L420.59,486.24 L422.72,486.38 L424.85,486.53 L426.97,486.69 L429.10,486.87 L431.22,487.06 L433.35,487.26 L435.47,487.48 L437.60,487.72 L439.73,487.97 L441.85,488.24 L443.98,488.53 L446.10,488.83 L448.23,489.15 L450.36,489.49 L452.48,489.85 L454.61,490.23 L456.73,490.63 L458.86,491.04 L460.99,491.48 L463.11,491.94 L465.24,492.42 L467.36,492.93 L469.49,493.45 L471.62,494.00 L473.74,494.57 L475.87,495.17 L477.99,495.78 L480.12,496.43 L482.24,497.10 L484.37,497.79 L486.50,498.51 L488.62,499.26 L490.75,500.03 L492.87,500.83 L495.00,501.66" fill="none" stroke="#111" stroke-width="1.3" stroke-linejoin="round" stroke-linecap="butt" />
<path d="M96.50,582.64 L97.24,582.51 L97.99,582.37 L98.73,582.24 L99.48,582.10 L100.22,581.96 L100.97,581.83 L101.71,581.69 L102.46,581.56 L103.20,581.42 L103.95,581.29 L104.69,581.15 L105.44,581.02 L106.18,580.88 L106.92,580.75 L107.67,580.61 L108.41,580.48 L109.16,580.35 L109.90,580.21 L110.65,580.08 L111.39,579.94 L112.14,579.81 L112.88,579.68 L113.63,579.54 L114.37,579.41 L115.12,579.28 L115.86,579.15 L116.60,579.01 L117.35,578.88 L118.09,578.75 L118.84,578.62 L119.58,578.49 L120.33,578.35 L121.07,578.22 L121.82,578.09 L122.56,577.96 L123.31,577.83 L124.05,577.70 L124.79,577.57 L125.54,577.44 L126.28,577.31 L127.03,577.18 L127.77,577.05 L128.52,576.92 L129.26,576.79 L130.01,576.66 L130.75,576.53 L131.50,576.40 L132.24,576.27 L132.99,576.14 L133.73,576.01 L134.47,575.88 L135.22,575.75 L135.96,575.63 L136.71,575.50 L137.45,575.37 L138.20,575.24 L138.94,575.11 L139.69,574.99 L140.43,574.86 L141.18,574.73 L141.92,574.60 L142.67,574.48 L143.41,574.35 L144.15,574.22 L144.90,574.10 L145.64,573.97 L146.39,573.85 L147.13,573.72 L147.88,573.59 L148.62,573.47 L149.37,573.34 L150.11,573.22 L150.86,573.09 L151.60,572.97 L152.35,572.84 L153.09,572.72 L153.83,572.59 L154.58,572.47 L155.32,572.35 L156.07,572.22 L156.81,572.10 L157.56,571.98 L158.30,571.85 L159.05,571.73 L159.79,571.61 L160.54,571.48 L161.28,571.36 L162.03,571.24 L162.77,571.12 L163.51,570.99 L164.26,570.87 L165.00,570.75 L165.75,570.63 L166.49,570.51 L167.24,570.39 L167.98,570.27 L168.73,570.14 L169.47,570.02 L170.22,569.90 L170.96,569.78 L171.71,569.66 L172.45,569.54 L173.19,569.42 L173.94,569.30 L174.68,569.18 L175.43,569.06 L176.17,568.95 L176.92,568.83 L177.66,568.71 L178.41,568.59 L179.15,568.47 L179.90,568.35 L180.64,568.23 L181.38,568.12 L182.13,568.00 L182.87,567.88 L183.62,567.76 L184.36,567.65 L185.11,567.53 L185.85,567.41 L186.60,567.30 L187.34,567.18 L188.09,567.06 L188.83,566.95 L189.58,566.83 L190.32,566.72 L191.06,566.60 L191.81,566.49 L192.55,566.37 L193.30,566.26 L194.04,566.14 L194.79,566.03 L195.53,565.91 L196.28,565.80 L197.02,565.69 L197.77,565.57 L198.51,565.46 L199.26,565.34 L200.00,565.23" fill="none" stroke="#222" stroke-width="1.15" stroke-linejoin="round" stroke-linecap="butt" />
<path d="M199.50,565.31 L201.63,564.98 L203.76,564.66 L205.89,564.34 L208.03,564.02 L210.16,563.71 L212.29,563.39 L214.42,563.08 L216.55,562.76 L218.68,562.45 L220.81,562.14 L222.94,561.84 L225.08,561.53 L227.21,561.23 L229.34,560.92 L231.47,560.62 L233.60,560.32 L235.73,560.03 L237.86,559.73 L239.99,559.44 L242.13,559.14 L244.26,558.85 L246.39,558.56 L248.52,558.28 L250.65,557.99 L252.78,557.71 L254.91,557.42 L257.04,557.14 L259.18,556.86 L261.31,556.59 L263.44,556.31 L265.57,556.04 L267.70,555.77 L269.83,555.49 L271.96,555.23 L274.10,554.96 L276.23,554.69 L278.36,554.43 L280.49,554.17 L282.62,553.91 L284.75,553.65 L286.88,553.40 L289.01,553.14 L291.15,552.89 L293.28,552.64 L295.41,552.39 L297.54,552.15 L299.67,551.90 L301.80,551.66 L303.93,551.42 L306.06,551.18 L308.20,550.94 L310.33,550.71 L312.46,550.47 L314.59,550.24 L316.72,550.01 L318.85,549.78 L320.98,549.56 L323.12,549.34 L325.25,549.11 L327.38,548.89 L329.51,548.68 L331.64,548.46 L333.77,548.25 L335.90,548.03 L338.03,547.82 L340.17,547.62 L342.30,547.41 L344.43,547.21 L346.56,547.01 L348.69,546.81 L350.82,546.61 L352.95,546.41 L355.08,546.22 L357.22,546.03 L359.35,545.84 L361.48,545.65 L363.61,545.46 L365.74,545.28 L367.87,545.10 L370.00,544.92 L372.13,544.74 L374.27,544.57 L376.40,544.40 L378.53,544.22 L380.66,544.06 L382.79,543.89 L384.92,543.73 L387.05,543.56 L389.19,543.40 L391.32,543.25 L393.45,543.09 L395.58,542.94 L397.71,542.79 L399.84,542.64 L401.97,542.49 L404.10,542.35 L406.24,542.20 L408.37,542.06 L410.50,541.92 L412.63,541.79 L414.76,541.66 L416.89,541.52 L419.02,541.40 L421.15,541.27 L423.29,541.14 L425.42,541.02 L427.55,540.90 L429.68,540.78 L431.81,540.67 L433.94,540.56 L436.07,540.45 L438.21,540.34 L440.34,540.23 L442.47,540.13 L444.60,540.03 L446.73,539.93 L448.86,539.83 L450.99,539.74 L453.12,539.64 L455.26,539.55 L457.39,539.47 L459.52,539.38 L461.65,539.30 L463.78,539.22 L465.91,539.14 L468.04,539.07 L470.17,539.00 L472.31,538.93 L474.44,538.86 L476.57,538.79 L478.70,538.73 L480.83,538.67 L482.96,538.61 L485.09,538.56 L487.22,538.50 L489.36,538.45 L491.49,538.40 L493.62,538.36 L495.75,538.32" fill="none" stroke="#111" stroke-width="1.6" stroke-linejoin="round" stroke-linecap="butt" />
<text x="490.40" y="494.40" font-size="10.6" text-anchor="start" fill="#1a1a1a" >Eta</text>
<text x="492.40" y="551.20" font-size="10.6" text-anchor="start" fill="#1a1a1a" >P2</text>
<line x1="96.50" y1="641.75" x2="96.50" y2="758.75" stroke="#141414" stroke-width="1.0" />
<line x1="116.50" y1="641.75" x2="116.50" y2="758.75" stroke="#141414" stroke-width="1.0" />
<line x1="139.50" y1="641.75" x2="139.50" y2="758.75" stroke="#141414" stroke-width="1.0" />
<line x1="163.50" y1="641.75" x2="163.50" y2="758.75" stroke="#141414" stroke-width="1.0" />
<line x1="185.50" y1="641.75" x2="185.50" y2="758.75" stroke="#141414" stroke-width="1.0" />
<line x1="208.50" y1="641.75" x2="208.50" y2="758.75" stroke="#141414" stroke-width="1.0" />
<line x1="232.50" y1="641.75" x2="232.50" y2="758.75" stroke="#141414" stroke-width="1.0" />
<line x1="255.50" y1="641.75" x2="255.50" y2="758.75" stroke="#141414" stroke-width="1.0" />
<line x1="277.50" y1="641.75" x2="277.50" y2="758.75" stroke="#141414" stroke-width="1.0" />
<line x1="301.50" y1="641.75" x2="301.50" y2="758.75" stroke="#141414" stroke-width="1.0" />
<line x1="323.50" y1="641.75" x2="323.50" y2="758.75" stroke="#141414" stroke-width="1.0" />
<line x1="347.50" y1="641.75" x2="347.50" y2="758.75" stroke="#141414" stroke-width="1.0" />
<line x1="370.50" y1="641.75" x2="370.50" y2="758.75" stroke="#141414" stroke-width="1.0" />
<line x1="392.50" y1="641.75" x2="392.50" y2="758.75" stroke="#141414" stroke-width="1.0" />
<line x1="416.50" y1="641.75" x2="416.50" y2="758.75" stroke="#141414" stroke-width="1.0" />
<line x1="439.50" y1="641.75" x2="439.50" y2="758.75" stroke="#141414" stroke-width="1.0" />
<line x1="461.50" y1="641.75" x2="461.50" y2="758.75" stroke="#141414" stroke-width="1.0" />
<line x1="485.50" y1="641.75" x2="485.50" y2="758.75" stroke="#141414" stroke-width="1.0" />
<line x1="508.50" y1="641.75" x2="508.50" y2="758.75" stroke="#141414" stroke-width="1.0" />
<line x1="531.50" y1="641.75" x2="531.50" y2="758.75" stroke="#141414" stroke-width="1.0" />
<line x1="93.80" y1="641.50" x2="531.60" y2="641.50" stroke="#141414" stroke-width="1.0" />
<line x1="93.80" y1="661.50" x2="531.60" y2="661.50" stroke="#141414" stroke-width="1.0" />
<line x1="93.80" y1="680.50" x2="531.60" y2="680.50" stroke="#141414" stroke-width="1.0" />
<line x1="93.80" y1="700.50" x2="531.60" y2="700.50" stroke="#141414" stroke-width="1.0" />
<line x1="93.80" y1="719.50" x2="531.60" y2="719.50" stroke="#141414" stroke-width="1.0" />
<line x1="93.80" y1="739.50" x2="531.60" y2="739.50" stroke="#141414" stroke-width="1.0" />
<line x1="93.80" y1="758.50" x2="531.60" y2="758.50" stroke="#141414" stroke-width="1.0" />
<line x1="96.50" y1="758.75" x2="96.50" y2="761.35" stroke="#141414" stroke-width="1.0" />
<text x="96.40" y="772.20" font-size="11.5" text-anchor="middle" fill="#1a1a1a" >0.0</text>
<line x1="116.50" y1="758.75" x2="116.50" y2="761.35" stroke="#141414" stroke-width="1.0" />
<text x="116.65" y="772.20" font-size="11.5" text-anchor="middle" fill="#1a1a1a" >0.2</text>
<line x1="139.50" y1="758.75" x2="139.50" y2="761.35" stroke="#141414" stroke-width="1.0" />
<text x="139.40" y="772.20" font-size="11.5" text-anchor="middle" fill="#1a1a1a" >0.4</text>
<line x1="163.50" y1="758.75" x2="163.50" y2="761.35" stroke="#141414" stroke-width="1.0" />
<text x="163.15" y="772.20" font-size="11.5" text-anchor="middle" fill="#1a1a1a" >0.6</text>
<line x1="185.50" y1="758.75" x2="185.50" y2="761.35" stroke="#141414" stroke-width="1.0" />
<text x="185.50" y="772.20" font-size="11.5" text-anchor="middle" fill="#1a1a1a" >0.8</text>
<line x1="208.50" y1="758.75" x2="208.50" y2="761.35" stroke="#141414" stroke-width="1.0" />
<text x="208.65" y="772.20" font-size="11.5" text-anchor="middle" fill="#1a1a1a" >1.0</text>
<line x1="232.50" y1="758.75" x2="232.50" y2="761.35" stroke="#141414" stroke-width="1.0" />
<text x="232.40" y="772.20" font-size="11.5" text-anchor="middle" fill="#1a1a1a" >1.2</text>
<line x1="255.50" y1="758.75" x2="255.50" y2="761.35" stroke="#141414" stroke-width="1.0" />
<text x="255.20" y="772.20" font-size="11.5" text-anchor="middle" fill="#1a1a1a" >1.4</text>
<line x1="277.50" y1="758.75" x2="277.50" y2="761.35" stroke="#141414" stroke-width="1.0" />
<text x="277.40" y="772.20" font-size="11.5" text-anchor="middle" fill="#1a1a1a" >1.6</text>
<line x1="301.50" y1="758.75" x2="301.50" y2="761.35" stroke="#141414" stroke-width="1.0" />
<text x="301.40" y="772.20" font-size="11.5" text-anchor="middle" fill="#1a1a1a" >1.8</text>
<line x1="323.50" y1="758.75" x2="323.50" y2="761.35" stroke="#141414" stroke-width="1.0" />
<text x="323.40" y="772.20" font-size="11.5" text-anchor="middle" fill="#1a1a1a" >2.0</text>
<line x1="347.50" y1="758.75" x2="347.50" y2="761.35" stroke="#141414" stroke-width="1.0" />
<text x="347.40" y="772.20" font-size="11.5" text-anchor="middle" fill="#1a1a1a" >2.2</text>
<line x1="370.50" y1="758.75" x2="370.50" y2="761.35" stroke="#141414" stroke-width="1.0" />
<text x="370.40" y="772.20" font-size="11.5" text-anchor="middle" fill="#1a1a1a" >2.4</text>
<line x1="392.50" y1="758.75" x2="392.50" y2="761.35" stroke="#141414" stroke-width="1.0" />
<text x="392.40" y="772.20" font-size="11.5" text-anchor="middle" fill="#1a1a1a" >2.6</text>
<line x1="416.50" y1="758.75" x2="416.50" y2="761.35" stroke="#141414" stroke-width="1.0" />
<text x="416.15" y="772.20" font-size="11.5" text-anchor="middle" fill="#1a1a1a" >2.8</text>
<line x1="439.50" y1="758.75" x2="439.50" y2="761.35" stroke="#141414" stroke-width="1.0" />
<text x="439.40" y="772.20" font-size="11.5" text-anchor="middle" fill="#1a1a1a" >3.0</text>
<line x1="461.50" y1="758.75" x2="461.50" y2="761.35" stroke="#141414" stroke-width="1.0" />
<text x="461.65" y="772.20" font-size="11.5" text-anchor="middle" fill="#1a1a1a" >3.2</text>
<line x1="485.50" y1="758.75" x2="485.50" y2="761.35" stroke="#141414" stroke-width="1.0" />
<line x1="508.50" y1="758.75" x2="508.50" y2="761.35" stroke="#141414" stroke-width="1.0" />
<text x="498.3" y="772.9" font-size="11.2" fill="#1a1a1a">Q[m<tspan font-size="5.8" dy="-4.4">3</tspan><tspan dy="4.4">/h]</tspan></text>
<text x="82.10" y="665.25" font-size="11.5" text-anchor="middle" fill="#1a1a1a" >10</text>
<text x="81.60" y="684.40" font-size="11.5" text-anchor="middle" fill="#1a1a1a" >8</text>
<text x="81.60" y="703.80" font-size="11.5" text-anchor="middle" fill="#1a1a1a" >6</text>
<text x="81.60" y="723.30" font-size="11.5" text-anchor="middle" fill="#1a1a1a" >4</text>
<text x="81.60" y="743.20" font-size="11.5" text-anchor="middle" fill="#1a1a1a" >2</text>
<text x="81.60" y="762.55" font-size="11.5" text-anchor="middle" fill="#1a1a1a" >0</text>
<text x="81.80" y="638.70" font-size="11.3" text-anchor="middle" fill="#1a1a1a" >H</text>
<text x="81.80" y="649.00" font-size="11.3" text-anchor="middle" fill="#1a1a1a" >[m]</text>
<line x1="65.50" y1="640.50" x2="65.50" y2="758.75" stroke="#141414" stroke-width="1.0" />
<line x1="61.20" y1="758.50" x2="65.80" y2="758.50" stroke="#141414" stroke-width="1.0" />
<text x="50.60" y="762.40" font-size="11.5" text-anchor="middle" fill="#1a1a1a" >0</text>
<line x1="61.20" y1="740.50" x2="65.80" y2="740.50" stroke="#141414" stroke-width="1.0" />
<text x="50.60" y="744.20" font-size="11.5" text-anchor="middle" fill="#1a1a1a" >6</text>
<line x1="61.20" y1="722.50" x2="65.80" y2="722.50" stroke="#141414" stroke-width="1.0" />
<text x="50.60" y="726.00" font-size="11.5" text-anchor="middle" fill="#1a1a1a" >12</text>
<line x1="61.20" y1="703.50" x2="65.80" y2="703.50" stroke="#141414" stroke-width="1.0" />
<text x="50.60" y="707.80" font-size="11.5" text-anchor="middle" fill="#1a1a1a" >18</text>
<line x1="61.20" y1="685.50" x2="65.80" y2="685.50" stroke="#141414" stroke-width="1.0" />
<text x="50.60" y="689.60" font-size="11.5" text-anchor="middle" fill="#1a1a1a" >24</text>
<line x1="61.20" y1="667.50" x2="65.80" y2="667.50" stroke="#141414" stroke-width="1.0" />
<text x="50.60" y="671.40" font-size="11.5" text-anchor="middle" fill="#1a1a1a" >30</text>
<line x1="61.20" y1="649.50" x2="65.80" y2="649.50" stroke="#141414" stroke-width="1.0" />
<text x="50.30" y="638.70" font-size="11.3" text-anchor="middle" fill="#1a1a1a" >H</text>
<text x="50.00" y="649.00" font-size="11.3" text-anchor="middle" fill="#1a1a1a" >[ft]</text>
<line x1="531.60" y1="661.50" x2="535.60" y2="661.50" stroke="#141414" stroke-width="1.0" />
<text x="545.00" y="664.55" font-size="11.5" text-anchor="middle" fill="#1a1a1a" >5</text>
<line x1="531.60" y1="680.50" x2="535.60" y2="680.50" stroke="#141414" stroke-width="1.0" />
<text x="545.00" y="683.90" font-size="11.5" text-anchor="middle" fill="#1a1a1a" >4</text>
<line x1="531.60" y1="700.50" x2="535.60" y2="700.50" stroke="#141414" stroke-width="1.0" />
<text x="545.00" y="703.30" font-size="11.5" text-anchor="middle" fill="#1a1a1a" >3</text>
<line x1="531.60" y1="719.50" x2="535.60" y2="719.50" stroke="#141414" stroke-width="1.0" />
<text x="545.00" y="722.80" font-size="11.5" text-anchor="middle" fill="#1a1a1a" >2</text>
<line x1="531.60" y1="739.50" x2="535.60" y2="739.50" stroke="#141414" stroke-width="1.0" />
<text x="545.00" y="742.70" font-size="11.5" text-anchor="middle" fill="#1a1a1a" >1</text>
<line x1="531.60" y1="758.50" x2="535.60" y2="758.50" stroke="#141414" stroke-width="1.0" />
<text x="545.00" y="762.05" font-size="11.5" text-anchor="middle" fill="#1a1a1a" >0</text>
<text x="545.40" y="638.90" font-size="8.5" text-anchor="middle" fill="#1a1a1a" textLength="23.2" lengthAdjust="spacingAndGlyphs">NPSH</text>
<text x="545.40" y="647.80" font-size="8.6" text-anchor="middle" fill="#1a1a1a" >[m]</text>
<line x1="563.50" y1="641.20" x2="563.50" y2="758.40" stroke="#141414" stroke-width="1.0" />
<line x1="563.80" y1="758.50" x2="570.00" y2="758.50" stroke="#141414" stroke-width="1.0" />
<text x="578.80" y="762.60" font-size="11.5" text-anchor="middle" fill="#1a1a1a" >0</text>
<line x1="563.80" y1="740.50" x2="570.00" y2="740.50" stroke="#141414" stroke-width="1.0" />
<text x="578.80" y="744.65" font-size="11.5" text-anchor="middle" fill="#1a1a1a" >3</text>
<line x1="563.80" y1="722.50" x2="570.00" y2="722.50" stroke="#141414" stroke-width="1.0" />
<text x="578.80" y="726.70" font-size="11.5" text-anchor="middle" fill="#1a1a1a" >6</text>
<line x1="563.80" y1="704.50" x2="570.00" y2="704.50" stroke="#141414" stroke-width="1.0" />
<text x="578.80" y="708.75" font-size="11.5" text-anchor="middle" fill="#1a1a1a" >9</text>
<line x1="563.80" y1="686.50" x2="570.00" y2="686.50" stroke="#141414" stroke-width="1.0" />
<text x="578.80" y="690.80" font-size="11.5" text-anchor="middle" fill="#1a1a1a" >12</text>
<line x1="563.80" y1="668.50" x2="570.00" y2="668.50" stroke="#141414" stroke-width="1.0" />
<text x="578.80" y="672.85" font-size="11.5" text-anchor="middle" fill="#1a1a1a" >15</text>
<line x1="563.80" y1="650.50" x2="570.00" y2="650.50" stroke="#141414" stroke-width="1.0" />
<text x="579.60" y="638.90" font-size="8.5" text-anchor="middle" fill="#1a1a1a" textLength="23.2" lengthAdjust="spacingAndGlyphs">NPSH</text>
<text x="579.60" y="647.80" font-size="8.6" text-anchor="middle" fill="#1a1a1a" >[ft]</text>
<rect x="117.6" y="655.5" width="21.2" height="12" fill="#fff"/>
<rect x="107.5" y="741.2" width="28.5" height="10.2" fill="#fff"/>
<path d="M96.50,672.74 L97.11,672.74 L97.72,672.74 L98.32,672.74 L98.93,672.74 L99.54,672.74 L100.15,672.73 L100.76,672.73 L101.36,672.73 L101.97,672.73 L102.58,672.73 L103.19,672.73 L103.79,672.73 L104.40,672.73 L105.01,672.73 L105.62,672.73 L106.23,672.73 L106.83,672.73 L107.44,672.73 L108.05,672.73 L108.66,672.73 L109.27,672.73 L109.87,672.73 L110.48,672.73 L111.09,672.73 L111.70,672.73 L112.31,672.73 L112.91,672.74 L113.52,672.74 L114.13,672.74 L114.74,672.74 L115.35,672.74 L115.95,672.74 L116.56,672.74 L117.17,672.74 L117.78,672.74 L118.38,672.74 L118.99,672.75 L119.60,672.75 L120.21,672.75 L120.82,672.75 L121.42,672.75 L122.03,672.75 L122.64,672.75 L123.25,672.76 L123.86,672.76 L124.46,672.76 L125.07,672.76 L125.68,672.76 L126.29,672.76 L126.90,672.76 L127.50,672.76 L128.11,672.77 L128.72,672.77 L129.33,672.77 L129.94,672.77 L130.54,672.77 L131.15,672.77 L131.76,672.77 L132.37,672.77 L132.97,672.78 L133.58,672.78 L134.19,672.78 L134.80,672.78 L135.41,672.78 L136.01,672.78 L136.62,672.78 L137.23,672.78 L137.84,672.78 L138.45,672.78 L139.05,672.78 L139.66,672.78 L140.27,672.78 L140.88,672.78 L141.49,672.78 L142.09,672.78 L142.70,672.78 L143.31,672.78 L143.92,672.78 L144.53,672.78 L145.13,672.78 L145.74,672.78 L146.35,672.78 L146.96,672.78 L147.56,672.78 L148.17,672.78 L148.78,672.78 L149.39,672.78 L150.00,672.78 L150.60,672.78 L151.21,672.77 L151.82,672.77 L152.43,672.77 L153.04,672.77 L153.64,672.77 L154.25,672.76 L154.86,672.76 L155.47,672.76 L156.08,672.76 L156.68,672.75 L157.29,672.75 L157.90,672.75 L158.51,672.74 L159.12,672.74 L159.72,672.74 L160.33,672.73 L160.94,672.73 L161.55,672.72 L162.15,672.72 L162.76,672.72 L163.37,672.71 L163.98,672.71 L164.59,672.70 L165.19,672.70 L165.80,672.69 L166.41,672.68 L167.02,672.68 L167.63,672.67 L168.23,672.67 L168.84,672.66 L169.45,672.65 L170.06,672.65 L170.67,672.64 L171.27,672.63 L171.88,672.62 L172.49,672.61 L173.10,672.61 L173.71,672.60 L174.31,672.59 L174.92,672.58 L175.53,672.57 L176.14,672.56 L176.74,672.55 L177.35,672.54 L177.96,672.53 L178.57,672.52 L179.18,672.51 L179.78,672.50 L180.39,672.49 L181.00,672.48" fill="none" stroke="#888" stroke-width="1.6" stroke-linejoin="round" stroke-linecap="butt" />
<path d="M180.00,672.50 L182.27,672.45 L184.54,672.40 L186.81,672.35 L189.08,672.30 L191.35,672.24 L193.62,672.18 L195.89,672.12 L198.16,672.05 L200.43,671.99 L202.71,671.93 L204.98,671.88 L207.25,671.82 L209.52,671.77 L211.79,671.73 L214.06,671.69 L216.33,671.66 L218.60,671.64 L220.87,671.63 L223.14,671.62 L225.41,671.63 L227.68,671.65 L229.95,671.67 L232.22,671.71 L234.49,671.75 L236.76,671.81 L239.03,671.87 L241.30,671.94 L243.57,672.02 L245.84,672.11 L248.12,672.21 L250.39,672.31 L252.66,672.43 L254.93,672.55 L257.20,672.67 L259.47,672.81 L261.74,672.95 L264.01,673.10 L266.28,673.25 L268.55,673.41 L270.82,673.58 L273.09,673.75 L275.36,673.93 L277.63,674.12 L279.90,674.30 L282.17,674.50 L284.44,674.70 L286.71,674.90 L288.98,675.11 L291.25,675.32 L293.53,675.54 L295.80,675.76 L298.07,675.98 L300.34,676.21 L302.61,676.44 L304.88,676.67 L307.15,676.91 L309.42,677.15 L311.69,677.39 L313.96,677.64 L316.23,677.89 L318.50,678.14 L320.77,678.40 L323.04,678.67 L325.31,678.94 L327.58,679.21 L329.85,679.49 L332.12,679.77 L334.39,680.05 L336.66,680.35 L338.94,680.64 L341.21,680.95 L343.48,681.26 L345.75,681.57 L348.02,681.89 L350.29,682.22 L352.56,682.55 L354.83,682.89 L357.10,683.23 L359.37,683.59 L361.64,683.94 L363.91,684.31 L366.18,684.68 L368.45,685.06 L370.72,685.45 L372.99,685.84 L375.26,686.25 L377.53,686.66 L379.80,687.08 L382.07,687.50 L384.35,687.94 L386.62,688.38 L388.89,688.84 L391.16,689.30 L393.43,689.78 L395.70,690.26 L397.97,690.76 L400.24,691.26 L402.51,691.77 L404.78,692.28 L407.05,692.81 L409.32,693.34 L411.59,693.87 L413.86,694.41 L416.13,694.95 L418.40,695.49 L420.67,696.04 L422.94,696.59 L425.21,697.14 L427.48,697.70 L429.76,698.26 L432.03,698.83 L434.30,699.40 L436.57,699.98 L438.84,700.56 L441.11,701.15 L443.38,701.74 L445.65,702.34 L447.92,702.95 L450.19,703.56 L452.46,704.18 L454.73,704.81 L457.00,705.45 L459.27,706.09 L461.54,706.75 L463.81,707.41 L466.08,708.08 L468.35,708.76 L470.62,709.45 L472.89,710.15 L475.17,710.86 L477.44,711.58 L479.71,712.31 L481.98,713.05 L484.25,713.81 L486.52,714.57 L488.79,715.35 L491.06,716.14 L493.33,716.94 L495.60,717.76" fill="none" stroke="#111" stroke-width="1.6" stroke-linejoin="round" stroke-linecap="butt" />
<path d="M96.50,752.55 L96.88,752.56 L97.27,752.57 L97.65,752.58 L98.04,752.58 L98.42,752.59 L98.81,752.60 L99.19,752.60 L99.58,752.61 L99.96,752.62 L100.35,752.62 L100.73,752.63 L101.12,752.64 L101.50,752.64 L101.89,752.65 L102.27,752.66 L102.66,752.66 L103.04,752.67 L103.43,752.67 L103.81,752.68 L104.20,752.68 L104.58,752.69 L104.97,752.69 L105.35,752.70 L105.74,752.70 L106.12,752.71 L106.51,752.71 L106.89,752.72 L107.28,752.72 L107.66,752.72 L108.05,752.73 L108.43,752.73 L108.82,752.73 L109.20,752.74 L109.59,752.74 L109.97,752.74 L110.36,752.75 L110.74,752.75 L111.13,752.75 L111.51,752.76 L111.90,752.76 L112.28,752.76 L112.67,752.76 L113.05,752.76 L113.44,752.77 L113.82,752.77 L114.21,752.77 L114.59,752.77 L114.97,752.77 L115.36,752.77 L115.74,752.77 L116.13,752.78 L116.51,752.78 L116.90,752.78 L117.28,752.78 L117.67,752.78 L118.05,752.78 L118.44,752.78 L118.82,752.78 L119.21,752.78 L119.59,752.78 L119.98,752.78 L120.36,752.77 L120.75,752.77 L121.13,752.77 L121.52,752.77 L121.90,752.77 L122.29,752.77 L122.67,752.77 L123.06,752.77 L123.44,752.76 L123.83,752.76 L124.21,752.76 L124.60,752.76 L124.98,752.76 L125.37,752.75 L125.75,752.75 L126.14,752.75 L126.52,752.74 L126.91,752.74 L127.29,752.74 L127.68,752.73 L128.06,752.73 L128.45,752.73 L128.83,752.72 L129.22,752.72 L129.60,752.71 L129.99,752.71 L130.37,752.71 L130.76,752.70 L131.14,752.70 L131.53,752.69 L131.91,752.69 L132.29,752.68 L132.68,752.68 L133.06,752.67 L133.45,752.66 L133.83,752.66 L134.22,752.65 L134.60,752.65 L134.99,752.64 L135.37,752.63 L135.76,752.63 L136.14,752.62 L136.53,752.61 L136.91,752.61 L137.30,752.60 L137.68,752.59 L138.07,752.59 L138.45,752.58 L138.84,752.57 L139.22,752.56 L139.61,752.56 L139.99,752.55 L140.38,752.54 L140.76,752.53 L141.15,752.52 L141.53,752.51 L141.92,752.50 L142.30,752.50 L142.69,752.49 L143.07,752.48 L143.46,752.47 L143.84,752.46 L144.23,752.45 L144.61,752.44 L145.00,752.43 L145.38,752.42 L145.77,752.41 L146.15,752.40 L146.54,752.39 L146.92,752.38 L147.31,752.37 L147.69,752.35 L148.08,752.34 L148.46,752.33 L148.85,752.32 L149.23,752.31 L149.62,752.30 L150.00,752.29" fill="none" stroke="#555" stroke-width="1.2" stroke-linejoin="round" stroke-linecap="butt" />
<path d="M149.00,752.32 L151.48,752.24 L153.96,752.15 L156.44,752.06 L158.92,751.97 L161.40,751.87 L163.88,751.76 L166.36,751.64 L168.84,751.52 L171.32,751.39 L173.80,751.26 L176.28,751.12 L178.76,750.97 L181.24,750.82 L183.72,750.66 L186.20,750.50 L188.68,750.33 L191.16,750.15 L193.64,749.96 L196.12,749.77 L198.60,749.57 L201.08,749.37 L203.56,749.16 L206.04,748.94 L208.53,748.72 L211.01,748.49 L213.49,748.25 L215.97,748.01 L218.45,747.76 L220.93,747.51 L223.41,747.25 L225.89,746.98 L228.37,746.71 L230.85,746.43 L233.33,746.15 L235.81,745.86 L238.29,745.56 L240.77,745.27 L243.25,744.96 L245.73,744.65 L248.21,744.34 L250.69,744.02 L253.17,743.70 L255.65,743.37 L258.13,743.04 L260.61,742.70 L263.09,742.37 L265.57,742.02 L268.05,741.68 L270.53,741.33 L273.01,740.97 L275.49,740.62 L277.97,740.26 L280.45,739.90 L282.93,739.53 L285.41,739.15 L287.89,738.76 L290.37,738.36 L292.85,737.94 L295.33,737.50 L297.81,737.03 L300.29,736.54 L302.77,736.02 L305.25,735.47 L307.73,734.89 L310.21,734.28 L312.69,733.65 L315.17,732.99 L317.65,732.30 L320.13,731.59 L322.62,730.86 L325.10,730.10 L327.58,729.33 L330.06,728.53 L332.54,727.72 L335.02,726.88 L337.50,726.03 L339.98,725.17 L342.46,724.29 L344.94,723.40 L347.42,722.49 L349.90,721.57 L352.38,720.64 L354.86,719.70 L357.34,718.74 L359.82,717.77 L362.30,716.78 L364.78,715.78 L367.26,714.77 L369.74,713.73 L372.22,712.68 L374.70,711.61 L377.18,710.53 L379.66,709.42 L382.14,708.31 L384.62,707.17 L387.10,706.03 L389.58,704.87 L392.06,703.70 L394.54,702.51 L397.02,701.31 L399.50,700.11 L401.98,698.89 L404.46,697.66 L406.94,696.42 L409.42,695.17 L411.90,693.92 L414.38,692.66 L416.86,691.39 L419.34,690.11 L421.82,688.83 L424.30,687.53 L426.78,686.22 L429.26,684.89 L431.74,683.55 L434.22,682.19 L436.71,680.80 L439.19,679.39 L441.67,677.96 L444.15,676.50 L446.63,675.02 L449.11,673.51 L451.59,671.98 L454.07,670.43 L456.55,668.86 L459.03,667.27 L461.51,665.67 L463.99,664.04 L466.47,662.40 L468.95,660.74 L471.43,659.07 L473.91,657.39 L476.39,655.69 L478.87,653.97 L481.35,652.25 L483.83,650.51 L486.31,648.76 L488.79,647.00 L491.27,645.23 L493.75,643.45" fill="none" stroke="#111" stroke-width="1.6" stroke-linejoin="round" stroke-linecap="butt" />
<text x="121.30" y="666.00" font-size="10.6" text-anchor="start" fill="#1a1a1a" >QH</text>
<text x="108.90" y="750.00" font-size="10.6" text-anchor="start" fill="#1a1a1a" >NPSH</text>
<line x1="96.20" y1="788.50" x2="531.60" y2="788.50" stroke="#141414" stroke-width="1.0" />
<line x1="96.50" y1="788.80" x2="96.50" y2="792.40" stroke="#141414" stroke-width="1.0" />
<text x="95.45" y="802.40" font-size="10.9" text-anchor="middle" fill="#1a1a1a" >0.0</text>
<line x1="137.50" y1="788.80" x2="137.50" y2="792.40" stroke="#141414" stroke-width="1.0" />
<text x="137.55" y="802.40" font-size="10.9" text-anchor="middle" fill="#1a1a1a" >0.1</text>
<line x1="178.50" y1="788.80" x2="178.50" y2="792.40" stroke="#141414" stroke-width="1.0" />
<text x="178.75" y="802.40" font-size="10.9" text-anchor="middle" fill="#1a1a1a" >0.2</text>
<line x1="219.50" y1="788.80" x2="219.50" y2="792.40" stroke="#141414" stroke-width="1.0" />
<text x="219.95" y="802.40" font-size="10.9" text-anchor="middle" fill="#1a1a1a" >0.3</text>
<line x1="261.50" y1="788.80" x2="261.50" y2="792.40" stroke="#141414" stroke-width="1.0" />
<text x="261.15" y="802.40" font-size="10.9" text-anchor="middle" fill="#1a1a1a" >0.4</text>
<line x1="302.50" y1="788.80" x2="302.50" y2="792.40" stroke="#141414" stroke-width="1.0" />
<text x="302.35" y="802.40" font-size="10.9" text-anchor="middle" fill="#1a1a1a" >0.5</text>
<line x1="343.50" y1="788.80" x2="343.50" y2="792.40" stroke="#141414" stroke-width="1.0" />
<text x="343.55" y="802.40" font-size="10.9" text-anchor="middle" fill="#1a1a1a" >0.6</text>
<line x1="384.50" y1="788.80" x2="384.50" y2="792.40" stroke="#141414" stroke-width="1.0" />
<text x="384.75" y="802.40" font-size="10.9" text-anchor="middle" fill="#1a1a1a" >0.7</text>
<line x1="425.50" y1="788.80" x2="425.50" y2="792.40" stroke="#141414" stroke-width="1.0" />
<text x="425.95" y="802.40" font-size="10.9" text-anchor="middle" fill="#1a1a1a" >0.8</text>
<line x1="467.50" y1="788.80" x2="467.50" y2="792.40" stroke="#141414" stroke-width="1.0" />
<text x="467.15" y="802.40" font-size="10.9" text-anchor="middle" fill="#1a1a1a" >0.9</text>
<line x1="508.50" y1="788.80" x2="508.50" y2="792.40" stroke="#141414" stroke-width="1.0" />
<text x="503.00" y="802.60" font-size="11.4" text-anchor="start" fill="#1a1a1a" >Q[1/S]</text>
</svg>
</body></html>
